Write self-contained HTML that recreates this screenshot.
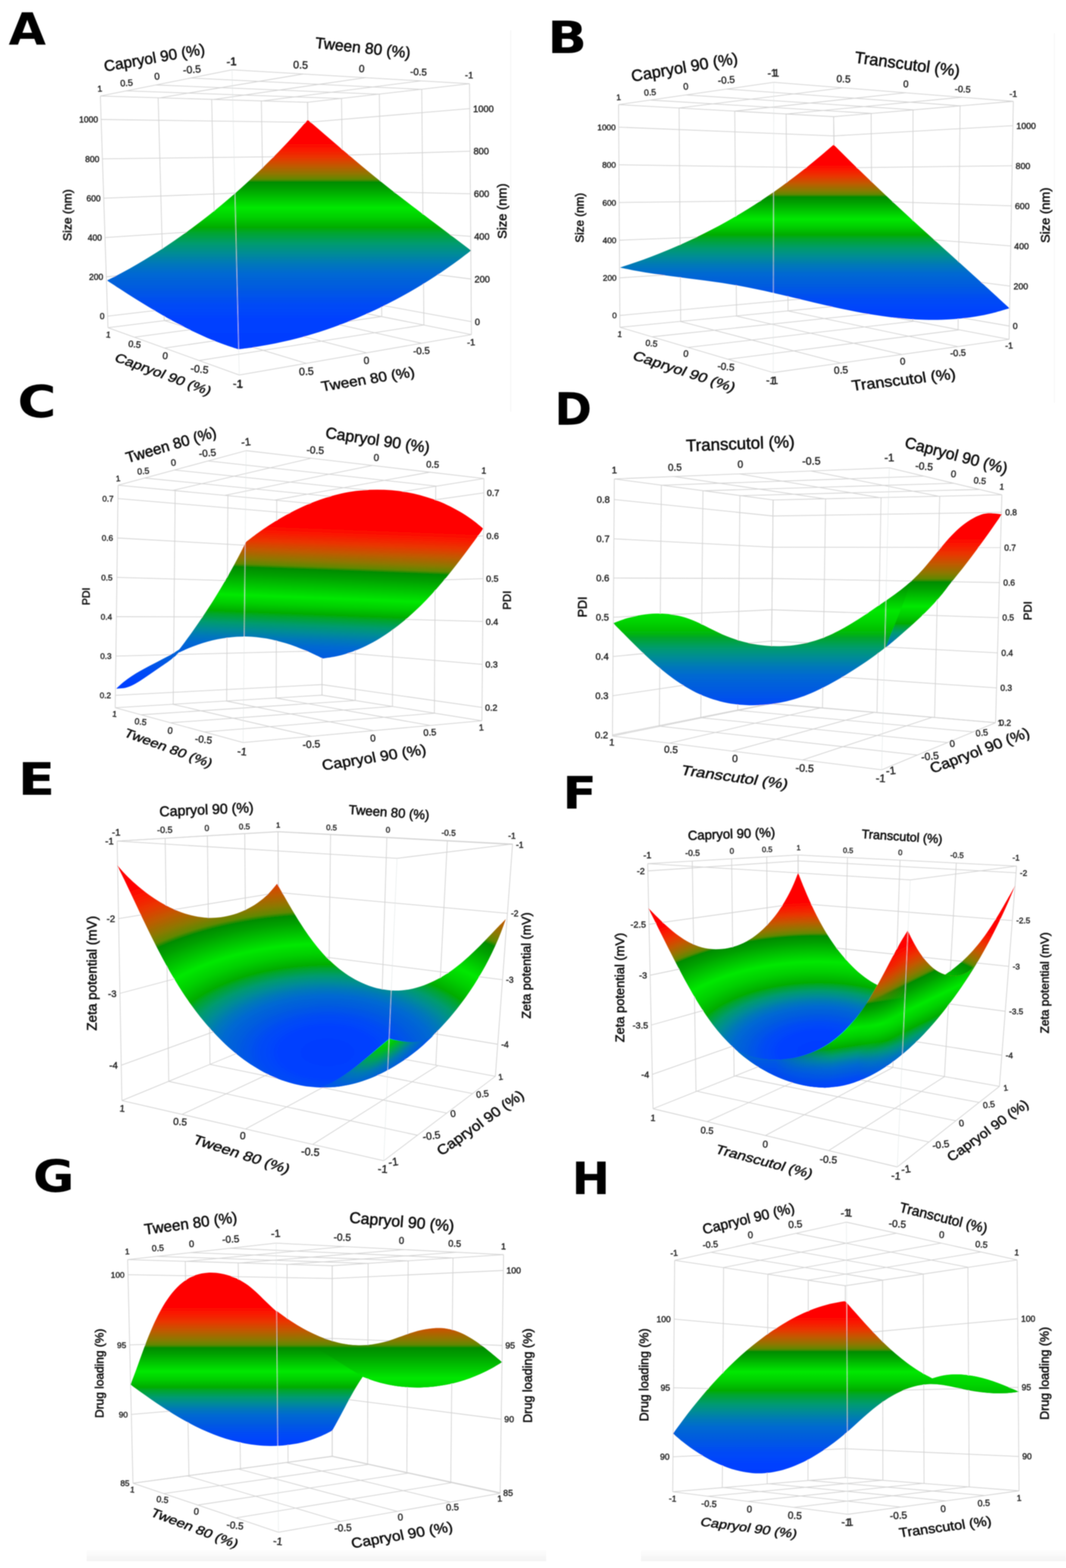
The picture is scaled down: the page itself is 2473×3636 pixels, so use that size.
<!DOCTYPE html>
<html lang="en"><head><meta charset="utf-8"><title>Response surface plots</title>
<style>
html,body{margin:0;padding:0;background:#fff;}
body{width:2473px;height:3636px;overflow:hidden;}
svg{display:block;font-family:"Liberation Sans","DejaVu Sans",sans-serif;}
.lt{font-family:"DejaVu Sans","Liberation Sans",sans-serif;font-weight:bold;}
text{text-anchor:middle;}
.lt,.s{text-anchor:start;}
.e{text-anchor:end;}
.k{fill:#262626;stroke:#262626;stroke-width:.8px;}
.a{fill:#0c0c0c;stroke:#0c0c0c;stroke-width:1px;}
</style></head><body>
<svg width="2473" height="3636" viewBox="0 0 2473 3636" font-size="20">
<defs>
<filter id="soft" filterUnits="userSpaceOnUse" x="0" y="0" width="2473" height="3636"><feGaussianBlur stdDeviation="1"/></filter>
<linearGradient id="gStrip" x1="0" y1="0" x2="0" y2="1"><stop offset="0" stop-color="#ffffff"/><stop offset="1" stop-color="#f3f3f3"/></linearGradient>
<linearGradient id="gA" gradientUnits="userSpaceOnUse" x1="0" y1="278.4" x2="0" y2="810"><stop offset="0.0000" stop-color="#ff0000"/><stop offset="0.0971" stop-color="#ff0000"/><stop offset="0.1286" stop-color="#fa1900"/><stop offset="0.1641" stop-color="#e83700"/><stop offset="0.2006" stop-color="#c05a00"/><stop offset="0.2367" stop-color="#8c7800"/><stop offset="0.2587" stop-color="#608800"/><stop offset="0.2661" stop-color="#288a00"/><stop offset="0.2711" stop-color="#008c00"/><stop offset="0.3000" stop-color="#00a000"/><stop offset="0.3462" stop-color="#00c800"/><stop offset="0.3830" stop-color="#00e800"/><stop offset="0.4246" stop-color="#00cf00"/><stop offset="0.4676" stop-color="#00ac00"/><stop offset="0.4885" stop-color="#00a62a"/><stop offset="0.5379" stop-color="#009b6e"/><stop offset="0.5815" stop-color="#008c96"/><stop offset="0.6251" stop-color="#0078b9"/><stop offset="0.6692" stop-color="#0069d2"/><stop offset="0.7361" stop-color="#005ae1"/><stop offset="0.8019" stop-color="#004bf5"/><stop offset="0.8683" stop-color="#0041ff"/><stop offset="1.0000" stop-color="#003cff"/></linearGradient>
<linearGradient id="gB" gradientUnits="userSpaceOnUse" x1="0" y1="335.5" x2="0" y2="780"><stop offset="0.0000" stop-color="#ff0000"/><stop offset="0.1001" stop-color="#ff0000"/><stop offset="0.1313" stop-color="#fa1900"/><stop offset="0.1663" stop-color="#e83700"/><stop offset="0.2024" stop-color="#c05a00"/><stop offset="0.2380" stop-color="#8c7800"/><stop offset="0.2598" stop-color="#608800"/><stop offset="0.2671" stop-color="#288a00"/><stop offset="0.2720" stop-color="#008c00"/><stop offset="0.3020" stop-color="#00a000"/><stop offset="0.3499" stop-color="#00c800"/><stop offset="0.3881" stop-color="#00e800"/><stop offset="0.4279" stop-color="#00cf00"/><stop offset="0.4691" stop-color="#00ac00"/><stop offset="0.4902" stop-color="#00a62a"/><stop offset="0.5405" stop-color="#009b6e"/><stop offset="0.5848" stop-color="#008c96"/><stop offset="0.6291" stop-color="#0078b9"/><stop offset="0.6739" stop-color="#0069d2"/><stop offset="0.7418" stop-color="#005ae1"/><stop offset="0.8088" stop-color="#004bf5"/><stop offset="0.8763" stop-color="#0041ff"/><stop offset="1.0000" stop-color="#003cff"/></linearGradient>
<linearGradient id="gC" gradientUnits="userSpaceOnUse" x1="756.1" y1="1164.1" x2="738.5" y2="1621.8"><stop offset="0.0000" stop-color="#ff0000"/><stop offset="0.1266" stop-color="#ff0000"/><stop offset="0.1662" stop-color="#fa1900"/><stop offset="0.2108" stop-color="#e83700"/><stop offset="0.2565" stop-color="#c05a00"/><stop offset="0.3018" stop-color="#8c7800"/><stop offset="0.3295" stop-color="#608800"/><stop offset="0.3388" stop-color="#288a00"/><stop offset="0.3450" stop-color="#008c00"/><stop offset="0.3817" stop-color="#00a000"/><stop offset="0.4403" stop-color="#00c800"/><stop offset="0.4869" stop-color="#00e800"/><stop offset="0.5277" stop-color="#00cf00"/><stop offset="0.5699" stop-color="#00ac00"/><stop offset="0.5869" stop-color="#00a62a"/><stop offset="0.6273" stop-color="#009b6e"/><stop offset="0.6629" stop-color="#008c96"/><stop offset="0.6986" stop-color="#0078b9"/><stop offset="0.7346" stop-color="#0069d2"/><stop offset="0.7893" stop-color="#005ae1"/><stop offset="0.8431" stop-color="#004bf5"/><stop offset="0.8974" stop-color="#0041ff"/><stop offset="1.0000" stop-color="#003cff"/></linearGradient>
<linearGradient id="gC2" gradientUnits="userSpaceOnUse" x1="0" y1="1164" x2="0" y2="1600"><stop offset="0.0000" stop-color="#ff0000"/><stop offset="0.1330" stop-color="#ff0000"/><stop offset="0.1746" stop-color="#fa1900"/><stop offset="0.2214" stop-color="#e83700"/><stop offset="0.2695" stop-color="#c05a00"/><stop offset="0.3170" stop-color="#8c7800"/><stop offset="0.3461" stop-color="#608800"/><stop offset="0.3559" stop-color="#288a00"/><stop offset="0.3624" stop-color="#008c00"/><stop offset="0.4009" stop-color="#00a000"/><stop offset="0.4625" stop-color="#00c800"/><stop offset="0.5115" stop-color="#00e800"/><stop offset="0.5560" stop-color="#00cf00"/><stop offset="0.6021" stop-color="#00ac00"/><stop offset="0.6210" stop-color="#00a62a"/><stop offset="0.6658" stop-color="#009b6e"/><stop offset="0.7054" stop-color="#008c96"/><stop offset="0.7449" stop-color="#0078b9"/><stop offset="0.7849" stop-color="#0069d2"/><stop offset="0.8456" stop-color="#005ae1"/><stop offset="0.9054" stop-color="#004bf5"/><stop offset="0.9656" stop-color="#0041ff"/><stop offset="1.0000" stop-color="#003cff"/></linearGradient>
<linearGradient id="gD" gradientUnits="userSpaceOnUse" x1="0" y1="1187" x2="0" y2="1725"><stop offset="0.0000" stop-color="#ff0000"/><stop offset="0.1089" stop-color="#ff0000"/><stop offset="0.1440" stop-color="#fa1900"/><stop offset="0.1835" stop-color="#e83700"/><stop offset="0.2240" stop-color="#c05a00"/><stop offset="0.2642" stop-color="#8c7800"/><stop offset="0.2887" stop-color="#608800"/><stop offset="0.2969" stop-color="#288a00"/><stop offset="0.3024" stop-color="#008c00"/><stop offset="0.3343" stop-color="#00a000"/><stop offset="0.3852" stop-color="#00c800"/><stop offset="0.4257" stop-color="#00e800"/><stop offset="0.4732" stop-color="#00d400"/><stop offset="0.5223" stop-color="#00b808"/><stop offset="0.5413" stop-color="#00a62a"/><stop offset="0.5865" stop-color="#009b6e"/><stop offset="0.6264" stop-color="#008c96"/><stop offset="0.6662" stop-color="#0078b9"/><stop offset="0.7065" stop-color="#0069d2"/><stop offset="0.7676" stop-color="#005ae1"/><stop offset="0.8278" stop-color="#004bf5"/><stop offset="0.8885" stop-color="#0041ff"/><stop offset="1.0000" stop-color="#003cff"/></linearGradient>
<linearGradient id="gD2" gradientUnits="userSpaceOnUse" x1="0" y1="1187" x2="0" y2="1620"><stop offset="0.0000" stop-color="#ff0000"/><stop offset="0.1353" stop-color="#ff0000"/><stop offset="0.1789" stop-color="#fa1900"/><stop offset="0.2280" stop-color="#e83700"/><stop offset="0.2784" stop-color="#c05a00"/><stop offset="0.3282" stop-color="#8c7800"/><stop offset="0.3587" stop-color="#608800"/><stop offset="0.3689" stop-color="#288a00"/><stop offset="0.3758" stop-color="#008c00"/><stop offset="0.4093" stop-color="#00a000"/><stop offset="0.4628" stop-color="#00c800"/><stop offset="0.5053" stop-color="#00e800"/><stop offset="0.5505" stop-color="#00cf00"/><stop offset="0.5972" stop-color="#00ac00"/><stop offset="0.6110" stop-color="#00a62a"/><stop offset="0.6436" stop-color="#009b6e"/><stop offset="0.6723" stop-color="#008c96"/><stop offset="0.7011" stop-color="#0078b9"/><stop offset="0.7301" stop-color="#0069d2"/><stop offset="0.7742" stop-color="#005ae1"/><stop offset="0.8177" stop-color="#004bf5"/><stop offset="0.8614" stop-color="#0041ff"/><stop offset="1.0000" stop-color="#003cff"/></linearGradient>
<radialGradient id="gE" gradientUnits="userSpaceOnUse" cx="0" cy="0" r="1" fx="0.0000" fy="0.0000" gradientTransform="translate(760 2440) scale(957.6 504)"><stop offset="0.0000" stop-color="#003cff"/><stop offset="0.1190" stop-color="#0041ff"/><stop offset="0.1661" stop-color="#004bf5"/><stop offset="0.2127" stop-color="#005ae1"/><stop offset="0.2601" stop-color="#0069d2"/><stop offset="0.2913" stop-color="#0078b9"/><stop offset="0.3222" stop-color="#008c96"/><stop offset="0.3530" stop-color="#009b6e"/><stop offset="0.3880" stop-color="#00a62a"/><stop offset="0.4028" stop-color="#00ac00"/><stop offset="0.4522" stop-color="#00cf00"/><stop offset="0.5000" stop-color="#00e800"/><stop offset="0.5434" stop-color="#00c800"/><stop offset="0.5980" stop-color="#00a000"/><stop offset="0.6321" stop-color="#008c00"/><stop offset="0.6395" stop-color="#288a00"/><stop offset="0.6506" stop-color="#608800"/><stop offset="0.6837" stop-color="#8c7800"/><stop offset="0.7378" stop-color="#c05a00"/><stop offset="0.7924" stop-color="#e83700"/><stop offset="0.8456" stop-color="#fa1900"/><stop offset="0.8929" stop-color="#ff0000"/><stop offset="1.0000" stop-color="#ff0000"/></radialGradient>
<radialGradient id="gE2" gradientUnits="userSpaceOnUse" cx="0" cy="0" r="1" gradientTransform="translate(903.5 2408.2) rotate(142) scale(170 62)"><stop offset="0" stop-color="#00dc00"/><stop offset="0.22" stop-color="#00c410"/><stop offset="0.45" stop-color="#00a060"/><stop offset="0.7" stop-color="#0078b4"/><stop offset="1" stop-color="#0058e6"/></radialGradient>
<radialGradient id="gF" gradientUnits="userSpaceOnUse" cx="0" cy="0" r="1" fx="0.0000" fy="0.0000" gradientTransform="translate(1900 2440) scale(792.3 417)"><stop offset="0.0000" stop-color="#003cff"/><stop offset="0.1199" stop-color="#0041ff"/><stop offset="0.1644" stop-color="#004bf5"/><stop offset="0.2086" stop-color="#005ae1"/><stop offset="0.2534" stop-color="#0069d2"/><stop offset="0.2829" stop-color="#0078b9"/><stop offset="0.3122" stop-color="#008c96"/><stop offset="0.3414" stop-color="#009b6e"/><stop offset="0.3745" stop-color="#00a62a"/><stop offset="0.3885" stop-color="#00ac00"/><stop offset="0.4470" stop-color="#00cf00"/><stop offset="0.5036" stop-color="#00e800"/><stop offset="0.5509" stop-color="#00c800"/><stop offset="0.6103" stop-color="#00a000"/><stop offset="0.6475" stop-color="#008c00"/><stop offset="0.6529" stop-color="#288a00"/><stop offset="0.6611" stop-color="#608800"/><stop offset="0.6854" stop-color="#8c7800"/><stop offset="0.7252" stop-color="#c05a00"/><stop offset="0.7654" stop-color="#e83700"/><stop offset="0.8045" stop-color="#fa1900"/><stop offset="0.8393" stop-color="#ff0000"/><stop offset="1.0000" stop-color="#ff0000"/></radialGradient>
<linearGradient id="gF2L" gradientUnits="userSpaceOnUse" x1="1964.2" y1="2214.2" x2="2013" y2="2540.6"><stop offset="0.0000" stop-color="#ff0000"/><stop offset="0.1212" stop-color="#ff0000"/><stop offset="0.1652" stop-color="#fa1900"/><stop offset="0.2146" stop-color="#e83700"/><stop offset="0.2654" stop-color="#c05a00"/><stop offset="0.3157" stop-color="#8c7800"/><stop offset="0.3465" stop-color="#608800"/><stop offset="0.3568" stop-color="#288a00"/><stop offset="0.3636" stop-color="#008c00"/><stop offset="0.4028" stop-color="#00a000"/><stop offset="0.4654" stop-color="#00c800"/><stop offset="0.5152" stop-color="#00e800"/><stop offset="0.5748" stop-color="#00cf00"/><stop offset="0.6364" stop-color="#00ac00"/><stop offset="0.6505" stop-color="#00a62a"/><stop offset="0.6842" stop-color="#009b6e"/><stop offset="0.7139" stop-color="#008c96"/><stop offset="0.7435" stop-color="#0078b9"/><stop offset="0.7736" stop-color="#0069d2"/><stop offset="0.8191" stop-color="#005ae1"/><stop offset="0.8639" stop-color="#004bf5"/><stop offset="0.9091" stop-color="#0041ff"/><stop offset="1.0000" stop-color="#003cff"/></linearGradient>
<linearGradient id="gF2R" gradientUnits="userSpaceOnUse" x1="2047.1" y1="2186.6" x2="2201.2" y2="2502.6"><stop offset="0.0000" stop-color="#ff0000"/><stop offset="0.0757" stop-color="#ff0000"/><stop offset="0.1195" stop-color="#fa1900"/><stop offset="0.1688" stop-color="#e83700"/><stop offset="0.2195" stop-color="#c05a00"/><stop offset="0.2696" stop-color="#8c7800"/><stop offset="0.3003" stop-color="#608800"/><stop offset="0.3106" stop-color="#288a00"/><stop offset="0.3174" stop-color="#008c00"/><stop offset="0.3576" stop-color="#00a000"/><stop offset="0.4217" stop-color="#00c800"/><stop offset="0.4727" stop-color="#00e800"/><stop offset="0.5300" stop-color="#00cf00"/><stop offset="0.5893" stop-color="#00ac00"/><stop offset="0.6044" stop-color="#00a62a"/><stop offset="0.6404" stop-color="#009b6e"/><stop offset="0.6721" stop-color="#008c96"/><stop offset="0.7038" stop-color="#0078b9"/><stop offset="0.7358" stop-color="#0069d2"/><stop offset="0.7844" stop-color="#005ae1"/><stop offset="0.8323" stop-color="#004bf5"/><stop offset="0.8805" stop-color="#0041ff"/><stop offset="1.0000" stop-color="#003cff"/></linearGradient>
<linearGradient id="gFm" gradientUnits="userSpaceOnUse" x1="1990" y1="0" x2="2110" y2="0"><stop offset="0.0000" stop-color="#000000"/><stop offset="1.0000" stop-color="#ffffff"/></linearGradient>
<linearGradient id="gFm2" gradientUnits="userSpaceOnUse" x1="1800" y1="0" x2="1930" y2="0"><stop offset="0.0000" stop-color="#ffffff"/><stop offset="1.0000" stop-color="#000000"/></linearGradient>
<mask id="mF2" maskUnits="userSpaceOnUse" x="1600" y="2100" width="800" height="500"><rect x="1600" y="2100" width="800" height="500" fill="url(#gFm2)"/></mask>
<linearGradient id="gF2B" gradientUnits="userSpaceOnUse" x1="0" y1="2435" x2="0" y2="2520"><stop offset="0.0000" stop-color="#0069d2"/><stop offset="0.5000" stop-color="#0050eb"/><stop offset="1.0000" stop-color="#003cfc"/></linearGradient>
<mask id="mF" maskUnits="userSpaceOnUse" x="1600" y="2100" width="800" height="500"><rect x="1600" y="2100" width="800" height="500" fill="url(#gFm)"/></mask>
<linearGradient id="gG" gradientUnits="userSpaceOnUse" x1="0" y1="2949.6" x2="0" y2="3360"><stop offset="0.0000" stop-color="#ff0000"/><stop offset="0.1910" stop-color="#ff0000"/><stop offset="0.2341" stop-color="#fa1900"/><stop offset="0.2826" stop-color="#e83700"/><stop offset="0.3324" stop-color="#c05a00"/><stop offset="0.3816" stop-color="#8c7800"/><stop offset="0.4118" stop-color="#608800"/><stop offset="0.4219" stop-color="#288a00"/><stop offset="0.4286" stop-color="#008c00"/><stop offset="0.4630" stop-color="#00a000"/><stop offset="0.5178" stop-color="#00c800"/><stop offset="0.5614" stop-color="#00e800"/><stop offset="0.6057" stop-color="#00cf00"/><stop offset="0.6516" stop-color="#00ac00"/><stop offset="0.6678" stop-color="#00a62a"/><stop offset="0.7062" stop-color="#009b6e"/><stop offset="0.7402" stop-color="#008c96"/><stop offset="0.7741" stop-color="#0078b9"/><stop offset="0.8084" stop-color="#0069d2"/><stop offset="0.8605" stop-color="#005ae1"/><stop offset="0.9118" stop-color="#004bf5"/><stop offset="0.9635" stop-color="#0041ff"/><stop offset="1.0000" stop-color="#003cff"/></linearGradient>
<linearGradient id="gG2" gradientUnits="userSpaceOnUse" x1="0" y1="2949.6" x2="0" y2="3400"><stop offset="0.0000" stop-color="#ff0000"/><stop offset="0.1741" stop-color="#ff0000"/><stop offset="0.2133" stop-color="#fa1900"/><stop offset="0.2575" stop-color="#e83700"/><stop offset="0.3028" stop-color="#c05a00"/><stop offset="0.3477" stop-color="#8c7800"/><stop offset="0.3752" stop-color="#608800"/><stop offset="0.3844" stop-color="#288a00"/><stop offset="0.3905" stop-color="#008c00"/><stop offset="0.4310" stop-color="#00a000"/><stop offset="0.4957" stop-color="#00c800"/><stop offset="0.5471" stop-color="#00e800"/><stop offset="0.6060" stop-color="#00cf00"/><stop offset="0.6670" stop-color="#00ac00"/><stop offset="0.6820" stop-color="#00a62a"/><stop offset="0.7176" stop-color="#009b6e"/><stop offset="0.7490" stop-color="#008c96"/><stop offset="0.7804" stop-color="#0078b9"/><stop offset="0.8122" stop-color="#0069d2"/><stop offset="0.8603" stop-color="#005ae1"/><stop offset="0.9078" stop-color="#004bf5"/><stop offset="0.9556" stop-color="#0041ff"/><stop offset="1.0000" stop-color="#003cff"/></linearGradient>
<linearGradient id="gH" gradientUnits="userSpaceOnUse" x1="0" y1="3016.9" x2="0" y2="3420"><stop offset="0.0000" stop-color="#ff0000"/><stop offset="0.0871" stop-color="#ff0000"/><stop offset="0.1240" stop-color="#fa1900"/><stop offset="0.1656" stop-color="#e83700"/><stop offset="0.2084" stop-color="#c05a00"/><stop offset="0.2507" stop-color="#8c7800"/><stop offset="0.2766" stop-color="#608800"/><stop offset="0.2852" stop-color="#288a00"/><stop offset="0.2910" stop-color="#008c00"/><stop offset="0.3208" stop-color="#00a000"/><stop offset="0.3685" stop-color="#00c800"/><stop offset="0.4064" stop-color="#00e800"/><stop offset="0.4598" stop-color="#00cf00"/><stop offset="0.5150" stop-color="#00ac00"/><stop offset="0.5370" stop-color="#00a62a"/><stop offset="0.5892" stop-color="#009b6e"/><stop offset="0.6352" stop-color="#008c96"/><stop offset="0.6812" stop-color="#0078b9"/><stop offset="0.7278" stop-color="#0069d2"/><stop offset="0.7984" stop-color="#005ae1"/><stop offset="0.8679" stop-color="#004bf5"/><stop offset="0.9380" stop-color="#0041ff"/><stop offset="1.0000" stop-color="#003cff"/></linearGradient>
<linearGradient id="gH2" gradientUnits="userSpaceOnUse" x1="0" y1="3187" x2="0" y2="3231"><stop offset="0.0000" stop-color="#00e200"/><stop offset="0.5000" stop-color="#00d600"/><stop offset="1.0000" stop-color="#00c000"/></linearGradient>
<linearGradient id="gHm" gradientUnits="userSpaceOnUse" x1="2150" y1="0" x2="2215" y2="0"><stop offset="0.0000" stop-color="#000000"/><stop offset="1.0000" stop-color="#ffffff"/></linearGradient>
<mask id="mH" maskUnits="userSpaceOnUse" x="2100" y="3150" width="300" height="120"><rect x="2100" y="3150" width="300" height="120" fill="url(#gHm)"/></mask>
<clipPath id="cH"><path d="M1561.5,3324.2C1565.1,3319.2 1575.9,3304.3 1583.3,3294.4C1590.7,3284.6 1598.2,3274.8 1605.8,3265.1C1613.5,3255.5 1621.3,3245.9 1629.2,3236.5C1637.2,3227.1 1645.3,3217.7 1653.6,3208.6C1661.8,3199.5 1670.3,3190.4 1678.9,3181.6C1687.5,3172.8 1696.3,3164.2 1705.2,3155.8C1714.2,3147.3 1723.4,3139.1 1732.8,3131.1C1742.1,3123.2 1751.7,3115.4 1761.5,3107.9C1771.3,3100.4 1781.3,3093.1 1791.5,3086.2C1801.8,3079.3 1812.2,3072.6 1822.9,3066.4C1833.6,3060.2 1844.4,3054.3 1855.5,3049.1C1866.6,3043.8 1877.9,3038.9 1889.4,3034.6C1900.9,3030.4 1912.7,3026.7 1924.6,3023.7C1936.5,3020.8 1954.8,3018 1960.9,3016.9C1964.6,3021.1 1975.7,3033.9 1983.2,3042.3C1990.7,3050.8 1998.2,3059.4 2005.8,3067.7C2013.5,3076.1 2021.2,3084.5 2029.1,3092.7C2036.9,3100.9 2044.9,3108.9 2053.1,3116.8C2061.3,3124.6 2069.6,3132.2 2078.2,3139.6C2086.8,3146.9 2095.6,3154 2104.7,3160.7C2113.8,3167.4 2123.1,3173.8 2132.7,3179.7C2142.4,3185.6 2157.6,3193.4 2162.6,3196.2C2166.9,3195.1 2179.8,3191.1 2188.4,3189.5C2197,3188 2205.6,3187.3 2214.2,3187.1C2222.8,3186.8 2231.4,3187.3 2240,3188.2C2248.5,3189 2257.1,3190.5 2265.6,3192.3C2274.1,3194.1 2282.6,3196.4 2291,3198.8C2299.3,3201.3 2307.7,3204.2 2315.9,3207.2C2324.1,3210.2 2332.3,3213.5 2340.3,3216.9C2348.4,3220.2 2360.1,3225.5 2364.1,3227.2C2359.1,3227.8 2344.2,3229.9 2334.3,3230.5C2324.4,3231.1 2314.6,3231.1 2304.8,3230.7C2295.1,3230.4 2285.3,3229.5 2275.6,3228.3C2265.8,3227.1 2256.1,3225.5 2246.3,3223.7C2236.5,3221.8 2226.7,3219.4 2216.8,3217.4C2207,3215.4 2197.1,3212.9 2187.2,3211.6C2177.4,3210.3 2167.6,3209.3 2157.8,3209.5C2148.1,3209.8 2138.4,3211.1 2128.9,3213.1C2119.4,3215.1 2109.9,3218.2 2100.7,3221.8C2091.5,3225.4 2082.5,3229.8 2073.7,3234.5C2065,3239.3 2056.4,3244.7 2048.3,3250.3C2040.1,3255.9 2032.3,3262 2024.7,3268.1C2017.1,3274.2 2009.9,3280.7 2002.6,3287.1C1995.3,3293.6 1988.3,3300.2 1980.9,3306.7C1973.6,3313.2 1966.3,3319.8 1958.6,3326.2C1951,3332.6 1943.1,3339 1935.1,3345.1C1927,3351.2 1918.7,3357.2 1910.3,3362.9C1901.9,3368.5 1893.3,3373.9 1884.6,3378.9C1875.9,3383.9 1867,3388.6 1858,3392.8C1849,3397 1839.8,3400.8 1830.6,3403.9C1821.4,3407.1 1812,3409.8 1802.6,3411.8C1793.2,3413.9 1783.7,3415.3 1774.1,3416C1764.6,3416.7 1754.9,3416.7 1745.3,3415.9C1735.7,3415.1 1726,3413.5 1716.4,3411.3C1706.8,3409.2 1697.2,3406.3 1687.7,3402.9C1678.3,3399.6 1668.8,3395.6 1659.7,3391.2C1650.5,3386.9 1641.4,3382 1632.6,3376.9C1623.8,3371.8 1615.2,3366.2 1607,3360.5C1598.8,3354.9 1590.7,3348.8 1583.2,3342.8C1575.6,3336.7 1565.1,3327.3 1561.5,3324.2Z" fill="#000"/></clipPath>
</defs>
<rect x="0" y="0" width="2473" height="3636" fill="#ffffff"/>
<g filter="url(#soft)">
<rect x="201" y="3592" width="1066" height="28" fill="url(#gStrip)"/>
<rect x="1487" y="3592" width="986" height="28" fill="url(#gStrip)"/>
<line x1="1184.8" y1="70" x2="1184.8" y2="955" stroke="#f1f1f1" stroke-width="1.6"/>
<line x1="2446" y1="77" x2="2446" y2="934" stroke="#f5f5f5" stroke-width="1.6"/>
<g id="panelA">
<g stroke="#d3d3d3" stroke-width="1.8" fill="none">
<line x1="232.8" y1="222.6" x2="713.5" y2="237.2"/>
<line x1="292.6" y1="210.7" x2="790.8" y2="228.4"/>
<line x1="361.7" y1="197" x2="877.7" y2="218.4"/>
<line x1="442.5" y1="180.9" x2="976.4" y2="207.1"/>
<line x1="538.3" y1="161.9" x2="1089.2" y2="194.2"/>
<line x1="232.8" y1="222.6" x2="538.3" y2="161.9"/>
<line x1="370.9" y1="226.8" x2="703.6" y2="171.6"/>
<line x1="495.9" y1="230.6" x2="848.2" y2="180.1"/>
<line x1="609.6" y1="234" x2="975.8" y2="187.6"/>
<line x1="713.5" y1="237.2" x2="1089.2" y2="194.2"/>
<line x1="250.5" y1="759.8" x2="719.5" y2="701"/>
<line x1="311.9" y1="781.9" x2="797.6" y2="716.6"/>
<line x1="381.8" y1="807.1" x2="884.8" y2="734"/>
<line x1="462" y1="836" x2="982.8" y2="753.6"/>
<line x1="555.1" y1="869.6" x2="1093.7" y2="775.8"/>
<line x1="250.5" y1="759.8" x2="555.1" y2="869.6"/>
<line x1="381.6" y1="743.4" x2="710.4" y2="842.5"/>
<line x1="502.7" y1="728.2" x2="850.6" y2="818.1"/>
<line x1="615.1" y1="714.1" x2="977.8" y2="796"/>
<line x1="719.5" y1="701" x2="1093.7" y2="775.8"/>
<line x1="366.9" y1="226.7" x2="381.1" y2="743.4"/>
<line x1="491.1" y1="230.4" x2="502.1" y2="728.3"/>
<line x1="606.3" y1="233.9" x2="614.6" y2="714.1"/>
<line x1="232.8" y1="222.6" x2="250.5" y2="759.8"/>
<line x1="713.5" y1="237.2" x2="719.5" y2="701"/>
<line x1="234.6" y1="277" x2="714.1" y2="283.7"/>
<line x1="237.6" y1="368.4" x2="715.1" y2="362.5"/>
<line x1="240.6" y1="459.6" x2="716.1" y2="441.3"/>
<line x1="243.6" y1="550.8" x2="717.2" y2="520"/>
<line x1="246.6" y1="642" x2="718.2" y2="598.8"/>
<line x1="249.6" y1="733.2" x2="719.2" y2="677.6"/>
<line x1="792.3" y1="228.2" x2="798.1" y2="716.7"/>
<line x1="880.1" y1="218.1" x2="885.6" y2="734.2"/>
<line x1="978.4" y1="206.9" x2="983.4" y2="753.8"/>
<line x1="713.5" y1="237.2" x2="719.5" y2="701"/>
<line x1="1089.2" y1="194.2" x2="1093.7" y2="775.8"/>
<line x1="714.1" y1="283.7" x2="1089.6" y2="251.8"/>
<line x1="715.1" y1="362.5" x2="1090.4" y2="350.6"/>
<line x1="716.1" y1="441.3" x2="1091.2" y2="449.4"/>
<line x1="717.2" y1="520" x2="1091.9" y2="548.2"/>
<line x1="718.2" y1="598.8" x2="1092.7" y2="647"/>
<line x1="719.2" y1="677.6" x2="1093.5" y2="745.8"/>
</g>
<path d="M248.3,650.5C254.2,647.4 272.1,638.4 283.8,632C295.5,625.7 307.2,619.1 318.7,612.4C330.2,605.7 341.7,598.9 353,591.8C364.3,584.8 375.5,577.6 386.6,570.2C397.7,562.8 408.7,555.3 419.6,547.6C430.5,539.9 441.3,532.1 452,524.1C462.6,516.1 473.2,508 483.7,499.7C494.2,491.4 504.5,483 514.8,474.5C525,465.9 535.2,457.3 545.2,448.5C555.2,439.7 565.2,430.7 575,421.7C584.8,412.7 594.5,403.5 604.1,394.2C613.7,384.9 623.2,375.5 632.6,366.1C642,356.6 651.2,347 660.4,337.3C669.5,327.6 678.6,317.8 687.5,307.9C696.5,298 709.6,283 714,278C742.2,301.8 820.3,370.5 883.4,421C946.5,471.5 1057.9,554.3 1092.8,581C1088.2,584.5 1074.3,595.2 1065,602.2C1055.6,609.1 1046.1,615.9 1036.5,622.5C1026.9,629.2 1017.3,635.7 1007.5,642C997.7,648.4 987.8,654.6 977.9,660.7C967.9,666.8 957.9,672.7 947.8,678.5C937.6,684.2 927.4,689.8 917.1,695.3C906.8,700.7 896.4,706 886,711.2C875.5,716.3 865,721.2 854.3,726C843.7,730.8 833,735.4 822.3,739.9C811.5,744.3 800.7,748.6 789.8,752.7C778.9,756.7 767.9,760.6 756.9,764.4C745.9,768.1 734.8,771.6 723.6,774.9C712.5,778.3 701.3,781.4 690,784.4C678.7,787.3 667.4,790 656,792.6C644.7,795.1 633.3,797.5 621.8,799.6C610.3,801.7 598.8,803.7 587.3,805.4C575.7,807.1 558.3,809.1 552.5,809.9C546.5,807.8 528.2,802 516.2,797.6C504.2,793.2 492.4,788.4 480.7,783.4C469,778.3 457.4,773 445.9,767.5C434.4,761.9 423.1,756.1 411.8,750.1C400.5,744.2 389.3,737.9 378.2,731.6C367.1,725.3 356.1,718.7 345.2,712.1C334.2,705.5 323.4,698.8 312.6,692C301.7,685.2 291,678.3 280.3,671.3C269.6,664.4 253.6,654 248.3,650.5Z" fill="url(#gA)"/>
<line x1="538.3" y1="161.9" x2="555.1" y2="869.6" stroke="#e2e6e6" stroke-width="1.3" stroke-opacity="0.85"/>
<text class="lt" transform="translate(20 103.7) scale(1.074 1)" font-size="104.1" fill="#000">A</text>
<text class="k" x="231.5" y="212.4" font-size="19.8" transform="rotate(-4 231.5 205.3)">1</text>
<text class="k" x="293.5" y="199.6" font-size="21.1" transform="rotate(-4 293.5 192)">0.5</text>
<text class="k" x="364.3" y="184.6" font-size="22.5" transform="rotate(-4 364.3 176.5)">0</text>
<text class="k" x="445.3" y="169.3" font-size="24.2" transform="rotate(-4 445.3 160.6)">-0.5</text>
<text class="k" x="537" y="151.4" font-size="26.1" transform="rotate(-4 537 142)">-1</text>
<text class="k" x="541.5" y="151.4" font-size="26.1" transform="rotate(2 541.5 142)">1</text>
<text class="k" x="697.4" y="158.9" font-size="24.8" transform="rotate(2 697.4 150)">0.5</text>
<text class="k" x="839" y="167.3" font-size="23.6" transform="rotate(2 839 158.8)">0</text>
<text class="k" x="971" y="174.4" font-size="22.5" transform="rotate(2 971 166.3)">-0.5</text>
<text class="k" x="1088.4" y="181.6" font-size="21.5" transform="rotate(2 1088.4 173.9)">-1</text>
<text class="k" x="251.4" y="782.9" font-size="19.8" transform="rotate(6 251.4 775.8)">1</text>
<text class="k" x="312.5" y="805.6" font-size="21.1" transform="rotate(6 312.5 798)">0.5</text>
<text class="k" x="383.4" y="832.6" font-size="22.5" transform="rotate(6 383.4 824.5)">0</text>
<text class="k" x="463" y="864.2" font-size="24.2" transform="rotate(6 463 855.5)">-0.5</text>
<text class="k" x="552" y="898.9" font-size="26.1" transform="rotate(6 552 889.5)">-1</text>
<text class="k" x="556.5" y="898.9" font-size="26.1" transform="rotate(-3 556.5 889.5)">1</text>
<text class="k" x="710.7" y="869.7" font-size="24.8" transform="rotate(-3 710.7 860.8)">0.5</text>
<text class="k" x="850" y="844" font-size="23.6" transform="rotate(-3 850 835.5)">0</text>
<text class="k" x="977.7" y="821.1" font-size="22.5" transform="rotate(-3 977.7 813)">-0.5</text>
<text class="k" x="1092.8" y="801.2" font-size="21.5" transform="rotate(-3 1092.8 793.5)">-1</text>
<text class="k e" x="227.6" y="284.1" font-size="19.8">1000</text>
<text class="k e" x="230.6" y="375.5" font-size="19.8">800</text>
<text class="k e" x="233.6" y="466.7" font-size="19.8">600</text>
<text class="k e" x="236.6" y="557.9" font-size="19.8">400</text>
<text class="k e" x="239.6" y="649.1" font-size="19.8">200</text>
<text class="k e" x="242.6" y="740.3" font-size="19.8">0</text>
<text class="k s" x="1097.6" y="259.5" font-size="21.5">1000</text>
<text class="k s" x="1098.4" y="358.3" font-size="21.5">800</text>
<text class="k s" x="1099.2" y="457.1" font-size="21.5">600</text>
<text class="k s" x="1099.9" y="555.9" font-size="21.5">400</text>
<text class="k s" x="1100.7" y="654.7" font-size="21.5">200</text>
<text class="k s" x="1101.5" y="753.5" font-size="21.5">0</text>
<text class="a" x="358" y="145.8" font-size="35.5" transform="rotate(-9.9 358 133)">Capryol 90 (%)</text>
<text class="a" x="842" y="123" font-size="36" transform="rotate(6.2 842 110)">Tween 80 (%)</text>
<text class="a" y="12.4" font-size="34.5" transform="translate(379 867.4) rotate(20.2) skewX(-11) scale(1.02 0.86)">Capryol 90 (%)</text>
<text class="a" y="12.8" font-size="35.5" transform="translate(853.3 878.5) rotate(-9.2) skewX(3) scale(1 0.92)">Tween 80 (%)</text>
<text class="a" x="155.5" y="508.8" font-size="28" transform="rotate(-90 155.5 498.7)">Size (nm)</text>
<text class="a" x="1164.5" y="500.3" font-size="30" transform="rotate(-90 1164.5 489.5)">Size (nm)</text>
</g>
<g id="panelB">
<g stroke="#d3d3d3" stroke-width="1.8" fill="none">
<line x1="1435" y1="242.6" x2="1934" y2="270.5"/>
<line x1="1508.5" y1="232" x2="2022" y2="263"/>
<line x1="1591.5" y1="220.1" x2="2119.6" y2="254.7"/>
<line x1="1686.1" y1="206.5" x2="2228.5" y2="245.4"/>
<line x1="1795" y1="190.8" x2="2350.8" y2="235"/>
<line x1="1435" y1="242.6" x2="1795" y2="190.8"/>
<line x1="1575.1" y1="250.4" x2="1956" y2="203.6"/>
<line x1="1704.2" y1="257.7" x2="2100.8" y2="215.1"/>
<line x1="1823.5" y1="264.3" x2="2231.8" y2="225.5"/>
<line x1="1934" y1="270.5" x2="2350.8" y2="235"/>
<line x1="1438.1" y1="759" x2="1939" y2="710"/>
<line x1="1512.7" y1="781" x2="2025.7" y2="726.6"/>
<line x1="1595.8" y1="805.6" x2="2120.7" y2="744.8"/>
<line x1="1688.8" y1="833" x2="2225.3" y2="764.8"/>
<line x1="1793.7" y1="864" x2="2341" y2="786.9"/>
<line x1="1438.1" y1="759" x2="1793.7" y2="864"/>
<line x1="1577.9" y1="745.3" x2="1950.3" y2="841.9"/>
<line x1="1707.3" y1="732.7" x2="2092.5" y2="821.9"/>
<line x1="1827.3" y1="720.9" x2="2222.2" y2="803.6"/>
<line x1="1939" y1="710" x2="2341" y2="786.9"/>
<line x1="1575.4" y1="250.4" x2="1579.1" y2="745.2"/>
<line x1="1704.5" y1="257.7" x2="1708.7" y2="732.5"/>
<line x1="1823.7" y1="264.3" x2="1828.3" y2="720.8"/>
<line x1="1435" y1="242.6" x2="1438.1" y2="759"/>
<line x1="1934" y1="270.5" x2="1939" y2="710"/>
<line x1="1435.3" y1="294.8" x2="1934.5" y2="315.1"/>
<line x1="1435.8" y1="382.2" x2="1935.4" y2="389.4"/>
<line x1="1436.4" y1="469.6" x2="1936.2" y2="463.6"/>
<line x1="1436.9" y1="557" x2="1937" y2="537.8"/>
<line x1="1437.4" y1="644.3" x2="1937.9" y2="612"/>
<line x1="1437.9" y1="731.5" x2="1938.7" y2="686"/>
<line x1="2021" y1="263.1" x2="2023.5" y2="726.2"/>
<line x1="2118.2" y1="254.8" x2="2117.5" y2="744.1"/>
<line x1="2227.3" y1="245.5" x2="2222.6" y2="764.2"/>
<line x1="1934" y1="270.5" x2="1939" y2="710"/>
<line x1="2350.8" y1="235" x2="2341" y2="786.9"/>
<line x1="1934.5" y1="315.1" x2="2349.8" y2="291.3"/>
<line x1="1935.4" y1="389.4" x2="2348.1" y2="384.3"/>
<line x1="1936.2" y1="463.6" x2="2346.5" y2="477.3"/>
<line x1="1937" y1="537.8" x2="2344.8" y2="570.3"/>
<line x1="1937.9" y1="612" x2="2343.2" y2="663.3"/>
<line x1="1938.7" y1="686" x2="2341.5" y2="756"/>
</g>
<path d="M1438.1,620.4C1444.2,618.4 1462.5,612.5 1474.6,608.3C1486.7,604.1 1498.7,599.7 1510.7,595.2C1522.7,590.7 1534.6,586 1546.4,581.1C1558.2,576.2 1570,571.2 1581.7,566C1593.3,560.7 1604.9,555.4 1616.5,549.8C1628,544.3 1639.4,538.5 1650.8,532.6C1662.1,526.7 1673.4,520.7 1684.5,514.4C1695.7,508.2 1706.8,501.8 1717.7,495.2C1728.7,488.6 1739.6,481.9 1750.4,475C1761.1,468.1 1771.8,461 1782.4,453.8C1793,446.6 1803.5,439.2 1813.9,431.7C1824.2,424.2 1834.5,416.5 1844.7,408.7C1854.9,401 1865,393 1875.1,385C1885.1,377 1895,368.8 1904.8,360.6C1914.6,352.3 1929.1,339.7 1934,335.5C1943.4,344.9 1971.5,373.1 1990.5,391.6C2009.5,410.1 2028.7,428.4 2048,446.6C2067.3,464.8 2086.8,482.8 2106.3,500.7C2125.8,518.7 2145.5,536.5 2165.1,554.3C2184.7,572.1 2204.5,589.8 2224.2,607.6C2243.8,625.4 2263.6,643.2 2283.2,661C2302.8,678.8 2332.1,705.8 2341.9,714.7C2335.4,716.6 2315.9,722.7 2302.9,725.9C2289.8,729.1 2276.7,731.7 2263.6,733.9C2250.5,736.1 2237.3,737.7 2224.1,739C2211,740.2 2197.8,741 2184.5,741.4C2171.3,741.8 2158.1,741.8 2144.9,741.4C2131.7,741.1 2118.4,740.4 2105.2,739.4C2092,738.4 2078.8,737 2065.6,735.4C2052.4,733.8 2039.2,731.9 2026.1,729.8C2012.9,727.8 1999.8,725.4 1986.8,722.9C1973.7,720.4 1960.7,717.7 1947.6,714.9C1934.6,712.1 1921.7,709.2 1908.7,706.2C1895.7,703.2 1882.8,700.1 1869.8,697C1856.9,693.9 1843.9,690.8 1831,687.7C1818,684.7 1805.1,681.6 1792.1,678.7C1779.2,675.7 1766.2,672.8 1753.2,670.2C1740.2,667.5 1727.2,664.9 1714.1,662.5C1701,660.2 1687.9,658 1674.8,656C1661.7,654 1648.5,652.3 1635.4,650.5C1622.2,648.7 1609,647.1 1595.8,645.4C1582.6,643.7 1569.4,642.1 1556.2,640.3C1543,638.6 1529.9,636.8 1516.7,634.8C1503.5,632.8 1490.4,630.7 1477.3,628.3C1464.2,625.9 1444.6,621.7 1438.1,620.4Z" fill="url(#gB)"/>
<line x1="1795" y1="190.8" x2="1793.7" y2="864" stroke="#e2e6e6" stroke-width="1.3" stroke-opacity="0.85"/>
<text class="lt" transform="translate(1270.2 122.7) scale(1.149 1)" font-size="104.1" fill="#000">B</text>
<text class="k" x="1435" y="232.2" font-size="19.1" transform="rotate(-4 1435 225.3)">1</text>
<text class="k" x="1508" y="221.1" font-size="20.2" transform="rotate(-4 1508 213.8)">0.5</text>
<text class="k" x="1591" y="207.8" font-size="21.6" transform="rotate(-4 1591 200)">0</text>
<text class="k" x="1685" y="193.3" font-size="23.1" transform="rotate(-4 1685 185)">-0.5</text>
<text class="k" x="1791.5" y="177.5" font-size="24.8" transform="rotate(-4 1791.5 168.6)">-1</text>
<text class="k" x="1801" y="177.5" font-size="24.8" transform="rotate(2.5 1801 168.6)">1</text>
<text class="k" x="1957" y="190.9" font-size="23.5" transform="rotate(2.5 1957 182.4)">0.5</text>
<text class="k" x="2101.5" y="202.4" font-size="22.4" transform="rotate(2.5 2101.5 194.3)">0</text>
<text class="k" x="2233.5" y="214" font-size="21.3" transform="rotate(2.5 2233.5 206.3)">-0.5</text>
<text class="k" x="2350.8" y="224.6" font-size="20.4" transform="rotate(2.5 2350.8 217.3)">-1</text>
<text class="k" x="1438.1" y="781.4" font-size="19.1" transform="rotate(6 1438.1 774.5)">1</text>
<text class="k" x="1511.6" y="803.1" font-size="20.2" transform="rotate(6 1511.6 795.8)">0.5</text>
<text class="k" x="1591.3" y="827.5" font-size="21.6" transform="rotate(6 1591.3 819.7)">0</text>
<text class="k" x="1684.3" y="858.1" font-size="23.1" transform="rotate(6 1684.3 849.8)">-0.5</text>
<text class="k" x="1788.5" y="890.6" font-size="24.8" transform="rotate(6 1788.5 881.7)">-1</text>
<text class="k" x="1798" y="890.6" font-size="24.8" transform="rotate(-3 1798 881.7)">1</text>
<text class="k" x="1951" y="866.2" font-size="23.5" transform="rotate(-3 1951 857.7)">0.5</text>
<text class="k" x="2094" y="845.5" font-size="22.4" transform="rotate(-3 2094 837.4)">0</text>
<text class="k" x="2222.4" y="825.6" font-size="21.3" transform="rotate(-3 2222.4 817.9)">-0.5</text>
<text class="k" x="2341" y="808.3" font-size="20.4" transform="rotate(-3 2341 801)">-1</text>
<text class="k e" x="1428.3" y="301.7" font-size="19.1">1000</text>
<text class="k e" x="1428.8" y="389.1" font-size="19.1">800</text>
<text class="k e" x="1429.4" y="476.5" font-size="19.1">600</text>
<text class="k e" x="1429.9" y="563.9" font-size="19.1">400</text>
<text class="k e" x="1430.4" y="651.2" font-size="19.1">200</text>
<text class="k e" x="1430.9" y="738.4" font-size="19.1">0</text>
<text class="k s" x="2357.8" y="298.6" font-size="20.4">1000</text>
<text class="k s" x="2356.1" y="391.6" font-size="20.4">800</text>
<text class="k s" x="2354.5" y="484.6" font-size="20.4">600</text>
<text class="k s" x="2352.8" y="577.6" font-size="20.4">400</text>
<text class="k s" x="2351.2" y="670.6" font-size="20.4">200</text>
<text class="k s" x="2349.5" y="763.3" font-size="20.4">0</text>
<text class="a" x="1587.8" y="168.5" font-size="37.5" transform="rotate(-9.7 1587.8 155)">Capryol 90 (%)</text>
<text class="a" x="2105" y="161.5" font-size="38" transform="rotate(7.6 2105 147.8)">Transcutol (%)</text>
<text class="a" y="13.1" font-size="36.3" transform="translate(1587.8 860.8) rotate(18.1) skewX(-11) scale(1.02 0.86)">Capryol 90 (%)</text>
<text class="a" y="13.5" font-size="37.5" transform="translate(2096.2 879.9) rotate(-6.7) skewX(3) scale(1 0.92)">Transcutol (%)</text>
<text class="a" x="1344.3" y="514.7" font-size="27" transform="rotate(-90 1344.3 505)">Size (nm)</text>
<text class="a" x="2423.8" y="509.8" font-size="30" transform="rotate(-90 2423.8 499)">Size (nm)</text>
</g>
<g id="panelC">
<g stroke="#d3d3d3" stroke-width="1.8" fill="none">
<line x1="274" y1="1125.2" x2="747" y2="1170"/>
<line x1="335.8" y1="1108.5" x2="826.7" y2="1157.2"/>
<line x1="404.9" y1="1089.9" x2="914.8" y2="1143.1"/>
<line x1="482.7" y1="1068.8" x2="1012.9" y2="1127.3"/>
<line x1="571" y1="1045" x2="1122.7" y2="1109.7"/>
<line x1="274" y1="1125.2" x2="571" y2="1045"/>
<line x1="401.1" y1="1137.2" x2="721.9" y2="1062.7"/>
<line x1="522" y1="1148.7" x2="863.7" y2="1079.3"/>
<line x1="637.2" y1="1159.6" x2="997" y2="1095"/>
<line x1="747" y1="1170" x2="1122.7" y2="1109.7"/>
<line x1="267.3" y1="1641.2" x2="747" y2="1612"/>
<line x1="327.4" y1="1657.5" x2="824.6" y2="1624.4"/>
<line x1="395.6" y1="1676" x2="911.2" y2="1638.2"/>
<line x1="473.7" y1="1697.3" x2="1008.3" y2="1653.8"/>
<line x1="564" y1="1721.8" x2="1118" y2="1671.3"/>
<line x1="267.3" y1="1641.2" x2="564" y2="1721.8"/>
<line x1="400.7" y1="1633.1" x2="722.7" y2="1707.3"/>
<line x1="524.5" y1="1625.5" x2="866.7" y2="1694.2"/>
<line x1="639.6" y1="1618.5" x2="997.9" y2="1682.2"/>
<line x1="747" y1="1612" x2="1118" y2="1671.3"/>
<line x1="406.4" y1="1137.7" x2="401.8" y2="1633"/>
<line x1="528.7" y1="1149.3" x2="525.8" y2="1625.5"/>
<line x1="641.9" y1="1160" x2="640.6" y2="1618.5"/>
<line x1="274" y1="1125.2" x2="267.3" y2="1641.2"/>
<line x1="747" y1="1170" x2="747" y2="1612"/>
<line x1="273.6" y1="1156.2" x2="747" y2="1196.3"/>
<line x1="272.4" y1="1247.5" x2="747" y2="1274.6"/>
<line x1="271.2" y1="1338.8" x2="747" y2="1352.8"/>
<line x1="270" y1="1430" x2="747" y2="1431"/>
<line x1="268.9" y1="1521.3" x2="747" y2="1509.3"/>
<line x1="267.7" y1="1612.4" x2="747" y2="1587.5"/>
<line x1="825" y1="1157.5" x2="824.2" y2="1624.3"/>
<line x1="912.3" y1="1143.5" x2="910.5" y2="1638.1"/>
<line x1="1010.8" y1="1127.7" x2="1007.7" y2="1653.7"/>
<line x1="747" y1="1170" x2="747" y2="1612"/>
<line x1="1122.7" y1="1109.7" x2="1118" y2="1671.3"/>
<line x1="747" y1="1196.3" x2="1122.4" y2="1142.9"/>
<line x1="747" y1="1274.6" x2="1121.6" y2="1242.3"/>
<line x1="747" y1="1352.8" x2="1120.8" y2="1341.8"/>
<line x1="747" y1="1431" x2="1119.9" y2="1441.2"/>
<line x1="747" y1="1509.3" x2="1119.1" y2="1540.7"/>
<line x1="747" y1="1587.5" x2="1118.3" y2="1640.3"/>
</g>
<path d="M269.5,1597C272.4,1594.4 280.8,1586.4 286.7,1581.6C292.7,1576.8 298.9,1572.4 305.3,1568.1C311.7,1563.9 318.2,1559.9 324.9,1556.1C331.5,1552.2 338.3,1548.6 345,1545C351.8,1541.4 358.7,1537.9 365.5,1534.4C372.3,1530.8 379.2,1527.3 385.9,1523.7C392.6,1520 399.3,1516.3 405.8,1512.4C412.3,1508.4 421.8,1502.1 425,1500C422.6,1503 415.9,1512.3 410.5,1517.7C405.1,1523.1 398.9,1527.7 392.6,1532.4C386.4,1537.1 379.6,1541.4 373.1,1545.9C366.6,1550.4 360,1555.1 353.5,1559.6C346.9,1564.1 340.4,1568.8 333.8,1573.1C327.2,1577.4 320.7,1581.9 313.9,1585.4C307,1589 300.2,1592.5 292.8,1594.4C285.4,1596.3 273.4,1596.6 269.5,1597Z" fill="url(#gC2)"/>
<path d="M570.6,1256.7C575,1253.4 588.1,1243.2 597.1,1236.7C606.1,1230.2 615.3,1223.9 624.7,1217.8C634.1,1211.7 643.6,1205.8 653.3,1200.2C663,1194.7 672.8,1189.3 682.8,1184.3C692.8,1179.2 702.9,1174.5 713.2,1170.1C723.5,1165.7 733.9,1161.6 744.4,1158C754.9,1154.4 765.5,1151.1 776.2,1148.3C787,1145.5 797.8,1143 808.8,1141.1C819.7,1139.2 830.7,1137.8 841.8,1136.8C852.9,1135.9 864,1135.4 875.2,1135.4C886.3,1135.4 897.5,1135.9 908.6,1136.8C919.7,1137.8 930.8,1139.2 941.8,1141.1C952.8,1143 963.7,1145.4 974.5,1148.2C985.2,1151.1 995.9,1154.4 1006.4,1158.1C1016.9,1161.9 1027.2,1166.2 1037.3,1170.9C1047.4,1175.6 1057.3,1180.8 1066.9,1186.4C1076.5,1192 1085.9,1198.1 1094.9,1204.7C1104,1211.2 1116.7,1222.2 1121.1,1225.7C1117.7,1230.4 1107.7,1244.3 1100.8,1253.7C1093.9,1263 1087,1272.5 1079.9,1281.9C1072.9,1291.3 1065.7,1300.7 1058.5,1310.1C1051.2,1319.4 1043.8,1328.7 1036.2,1337.9C1028.6,1347 1020.9,1356.1 1013.1,1365C1005.2,1373.9 997.2,1382.7 989,1391.2C980.7,1399.7 972.4,1408.1 963.8,1416.1C955.2,1424.2 946.4,1432 937.4,1439.5C928.4,1447 919.2,1454.2 909.7,1461.1C900.3,1467.9 890.6,1474.4 880.6,1480.4C870.7,1486.4 860.5,1492.1 850.1,1497.2C839.6,1502.3 829,1506.9 818,1510.9C807,1514.8 795.8,1518.3 784.3,1521C772.8,1523.7 754.9,1526 749,1527C745.5,1525.3 735.2,1520.2 728.1,1517C721.1,1513.7 714,1510.6 706.8,1507.6C699.6,1504.6 692.4,1501.7 685.1,1499.1C677.8,1496.4 670.4,1493.9 663,1491.6C655.6,1489.3 648.1,1487.2 640.7,1485.4C633.2,1483.5 625.6,1481.9 618.1,1480.6C610.5,1479.3 602.9,1478.2 595.3,1477.4C587.6,1476.7 580,1476.3 572.4,1476.1C564.7,1476 557,1476.2 549.4,1476.6C541.8,1477 534.1,1477.8 526.5,1478.8C518.9,1479.8 511.3,1481.1 503.7,1482.6C496.1,1484.2 488.6,1486 481.1,1488C473.7,1490.1 466.3,1492.4 458.9,1495C451.6,1497.5 444.3,1500.3 437.1,1503.3C429.9,1506.3 419.3,1511.4 415.7,1513L413.4,1509.3C415.9,1506 423.4,1496.1 428.4,1489.5C433.3,1482.8 438.2,1476.1 443,1469.4C447.8,1462.7 452.6,1455.9 457.3,1449.1C462,1442.3 466.7,1435.4 471.3,1428.6C475.9,1421.7 480.4,1414.8 484.9,1407.8C489.4,1400.9 493.9,1393.9 498.2,1386.9C502.6,1379.8 506.9,1372.8 511.2,1365.7C515.5,1358.6 519.7,1351.5 523.8,1344.3C527.9,1337.1 532,1330 536,1322.7C540.1,1315.5 544,1308.2 547.9,1300.9C551.8,1293.6 555.7,1286.3 559.5,1278.9C563.2,1271.5 568.7,1260.4 570.6,1256.7Z" fill="url(#gC)"/>
<line x1="571" y1="1045" x2="564" y2="1721.8" stroke="#e2e6e6" stroke-width="1.3" stroke-opacity="0.85"/>
<text class="lt" transform="translate(40.7 967.8) scale(1.176 1)" font-size="104.1" fill="#000">C</text>
<text class="k" x="274" y="1116.1" font-size="19" transform="rotate(-5 274 1109.3)">1</text>
<text class="k" x="332.4" y="1099.3" font-size="20.2" transform="rotate(-5 332.4 1092)">0.5</text>
<text class="k" x="402.4" y="1079.9" font-size="21.6" transform="rotate(-5 402.4 1072.1)">0</text>
<text class="k" x="481.2" y="1058.4" font-size="23.2" transform="rotate(-5 481.2 1050)">-0.5</text>
<text class="k" x="570.6" y="1033.3" font-size="25" transform="rotate(-5 570.6 1024.3)">-1</text>
<text class="k" x="731.5" y="1051.9" font-size="23.8" transform="rotate(2.5 731.5 1043.3)">-0.5</text>
<text class="k" x="873.2" y="1068.8" font-size="22.7" transform="rotate(2.5 873.2 1060.6)">0</text>
<text class="k" x="1003.8" y="1084.3" font-size="21.6" transform="rotate(2.5 1003.8 1076.5)">0.5</text>
<text class="k" x="1122.5" y="1098.2" font-size="20.7" transform="rotate(2.5 1122.5 1090.7)">1</text>
<text class="k" x="266" y="1662.2" font-size="19" transform="rotate(6 266 1655.4)">1</text>
<text class="k" x="326.2" y="1680.4" font-size="20.2" transform="rotate(6 326.2 1673.1)">0.5</text>
<text class="k" x="394.8" y="1701.3" font-size="21.6" transform="rotate(6 394.8 1693.5)">0</text>
<text class="k" x="472.3" y="1722.7" font-size="23.2" transform="rotate(6 472.3 1714.3)">-0.5</text>
<text class="k" x="561.8" y="1751.2" font-size="25" transform="rotate(6 561.8 1742.2)">-1</text>
<text class="k" x="722.4" y="1733.9" font-size="23.8" transform="rotate(-3 722.4 1725.3)">-0.5</text>
<text class="k" x="865.2" y="1719.4" font-size="22.7" transform="rotate(-3 865.2 1711.2)">0</text>
<text class="k" x="997.2" y="1705.7" font-size="21.6" transform="rotate(-3 997.2 1697.9)">0.5</text>
<text class="k" x="1116.7" y="1693.9" font-size="20.7" transform="rotate(-3 1116.7 1686.4)">1</text>
<text class="k e" x="263.6" y="1163" font-size="19">0.7</text>
<text class="k e" x="262.4" y="1254.3" font-size="19">0.6</text>
<text class="k e" x="261.2" y="1345.6" font-size="19">0.5</text>
<text class="k e" x="260" y="1436.8" font-size="19">0.4</text>
<text class="k e" x="258.9" y="1528.1" font-size="19">0.3</text>
<text class="k e" x="257.7" y="1619.2" font-size="19">0.2</text>
<text class="k s" x="1129.4" y="1150.4" font-size="20.7">0.7</text>
<text class="k s" x="1128.6" y="1249.8" font-size="20.7">0.6</text>
<text class="k s" x="1127.8" y="1349.3" font-size="20.7">0.5</text>
<text class="k s" x="1126.9" y="1448.7" font-size="20.7">0.4</text>
<text class="k s" x="1126.1" y="1548.2" font-size="20.7">0.3</text>
<text class="k s" x="1125.3" y="1647.8" font-size="20.7">0.2</text>
<text class="a" x="396.6" y="1043.6" font-size="35.2" transform="rotate(-16.4 396.6 1030.9)">Tween 80 (%)</text>
<text class="a" x="876.3" y="1033" font-size="36.6" transform="rotate(8.3 876.3 1019.8)">Capryol 90 (%)</text>
<text class="a" y="12.2" font-size="34" transform="translate(391.3 1734.2) rotate(20.1) skewX(-11) scale(1.02 0.86)">Tween 80 (%)</text>
<text class="a" y="13.2" font-size="36.6" transform="translate(867.5 1755.5) rotate(-8.9) skewX(3) scale(1 0.92)">Capryol 90 (%)</text>
<text class="a" x="199.6" y="1391.7" font-size="24.5" transform="rotate(-90 199.6 1382.9)">PDI</text>
<text class="a" x="1175.2" y="1401.3" font-size="26.5" transform="rotate(-90 1175.2 1391.8)">PDI</text>
</g>
<g id="panelD">
<g stroke="#d3d3d3" stroke-width="1.8" fill="none">
<line x1="1425.2" y1="1110.6" x2="1793.6" y2="1159.3"/>
<line x1="1563.8" y1="1105" x2="1912.9" y2="1156.6"/>
<line x1="1715.1" y1="1098.9" x2="2040.5" y2="1153.8"/>
<line x1="1880.8" y1="1092.2" x2="2177.2" y2="1150.7"/>
<line x1="2063" y1="1084.9" x2="2324.2" y2="1147.4"/>
<line x1="1425.2" y1="1110.6" x2="2063" y2="1084.9"/>
<line x1="1535.6" y1="1125.2" x2="2143.7" y2="1104.2"/>
<line x1="1632.3" y1="1138" x2="2212.6" y2="1120.7"/>
<line x1="1717.7" y1="1149.3" x2="2272.2" y2="1135"/>
<line x1="1793.6" y1="1159.3" x2="2324.2" y2="1147.4"/>
<line x1="1420.8" y1="1706.8" x2="1788.3" y2="1632"/>
<line x1="1552.7" y1="1723.3" x2="1903.2" y2="1641.7"/>
<line x1="1699" y1="1741.7" x2="2027.6" y2="1652.1"/>
<line x1="1862.2" y1="1762.1" x2="2162.6" y2="1663.4"/>
<line x1="2045.3" y1="1785.1" x2="2309.6" y2="1675.8"/>
<line x1="1420.8" y1="1706.8" x2="2045.3" y2="1785.1"/>
<line x1="1531.8" y1="1684.2" x2="2128.2" y2="1750.8"/>
<line x1="1628.3" y1="1664.6" x2="2198.1" y2="1721.9"/>
<line x1="1713.2" y1="1647.3" x2="2257.9" y2="1697.2"/>
<line x1="1788.3" y1="1632" x2="2309.6" y2="1675.8"/>
<line x1="1534.3" y1="1125" x2="1529.5" y2="1684.7"/>
<line x1="1630.8" y1="1137.8" x2="1625.7" y2="1665.1"/>
<line x1="1716.6" y1="1149.1" x2="1711.4" y2="1647.6"/>
<line x1="1425.2" y1="1110.6" x2="1420.8" y2="1706.8"/>
<line x1="1793.6" y1="1159.3" x2="1788.3" y2="1632"/>
<line x1="1424.8" y1="1158.4" x2="1793.2" y2="1196.5"/>
<line x1="1424.2" y1="1249.4" x2="1792.4" y2="1268.9"/>
<line x1="1423.5" y1="1340.4" x2="1791.6" y2="1341.5"/>
<line x1="1422.8" y1="1431.4" x2="1790.7" y2="1414"/>
<line x1="1422.2" y1="1522.4" x2="1789.9" y2="1486.4"/>
<line x1="1421.5" y1="1613.4" x2="1789.1" y2="1558.9"/>
<line x1="1420.8" y1="1704.1" x2="1788.3" y2="1630.9"/>
<line x1="1915.3" y1="1156.6" x2="1908.1" y2="1642.1"/>
<line x1="2044" y1="1153.7" x2="2034.5" y2="1652.7"/>
<line x1="2180" y1="1150.6" x2="2168.1" y2="1663.9"/>
<line x1="1793.6" y1="1159.3" x2="1788.3" y2="1632"/>
<line x1="2324.2" y1="1147.4" x2="2309.6" y2="1675.8"/>
<line x1="1793.2" y1="1196.5" x2="2323.1" y2="1188.1"/>
<line x1="1792.4" y1="1268.9" x2="2320.8" y2="1269.5"/>
<line x1="1791.6" y1="1341.5" x2="2318.6" y2="1351"/>
<line x1="1790.7" y1="1414" x2="2316.3" y2="1432.4"/>
<line x1="1789.9" y1="1486.4" x2="2314.1" y2="1513.8"/>
<line x1="1789.1" y1="1558.9" x2="2311.8" y2="1595.2"/>
<line x1="1788.3" y1="1630.9" x2="2309.6" y2="1675.8"/>
</g>
<path d="M1422.6,1445C1427.9,1443.1 1443.7,1436.7 1454.6,1433.5C1465.5,1430.3 1476.9,1427.7 1488.2,1426C1499.5,1424.2 1511.1,1423.1 1522.5,1422.8C1534,1422.6 1545.5,1423.2 1556.7,1424.7C1567.9,1426.2 1579.1,1428.6 1589.8,1432C1600.6,1435.3 1611,1439.9 1621.3,1444.5C1631.7,1449.2 1641.8,1454.8 1652.1,1459.7C1662.4,1464.7 1672.7,1470 1683.3,1474.3C1693.8,1478.6 1704.6,1482.5 1715.6,1485.7C1726.5,1488.9 1737.6,1491.5 1748.8,1493.5C1760,1495.5 1771.3,1496.9 1782.6,1497.7C1793.9,1498.5 1805.3,1498.7 1816.6,1498.2C1827.8,1497.8 1839.1,1496.7 1850.3,1494.9C1861.4,1493.2 1872.5,1490.8 1883.4,1487.8C1894.3,1484.8 1905,1481 1915.5,1476.7C1926,1472.5 1936.3,1467.4 1946.5,1462.2C1956.7,1456.9 1966.7,1451 1976.6,1445.1C1986.4,1439.1 1996.1,1432.7 2005.8,1426.4C2015.4,1420 2024.9,1413.5 2034.3,1407.1C2043.7,1400.6 2053,1394.3 2062.2,1387.9C2071.4,1381.4 2080.5,1375 2089.3,1368.2C2098.1,1361.3 2106.7,1354.4 2115,1346.8C2123.3,1339.1 2131.3,1331 2139.1,1322.5C2146.9,1314 2154.3,1304.8 2161.8,1295.8C2169.3,1286.8 2176.6,1277.4 2184.1,1268.5C2191.7,1259.5 2199.2,1250.5 2207.1,1242.3C2215,1234.1 2223.1,1226.1 2231.7,1219.2C2240.3,1212.3 2249.3,1205.8 2259,1200.9C2268.6,1196.1 2278.9,1191.5 2289.7,1190.1C2300.6,1188.7 2318.5,1192.1 2324.2,1192.5C2320.9,1197.2 2311.1,1211.5 2304.4,1220.9C2297.8,1230.4 2291.1,1239.8 2284.4,1249.2C2277.6,1258.6 2270.8,1268 2264,1277.2C2257.1,1286.5 2250.1,1295.7 2243.1,1304.9C2236.1,1314 2229,1323.1 2221.7,1332.1C2214.5,1341.1 2207.2,1350 2199.8,1358.8C2192.3,1367.6 2184.8,1376.3 2177.2,1384.9C2169.5,1393.5 2161.7,1401.9 2153.8,1410.3C2145.9,1418.6 2137.9,1426.8 2129.7,1434.9C2121.5,1442.9 2113.2,1450.9 2104.7,1458.6C2096.2,1466.4 2087.6,1474 2078.8,1481.4C2070,1488.8 2061,1496.1 2051.9,1503.2C2042.8,1510.2 2033.5,1517.1 2024.1,1523.9C2014.8,1530.6 2005.2,1537.2 1995.6,1543.6C1985.9,1550 1976.1,1556.3 1966.3,1562.3C1956.4,1568.4 1946.4,1574.4 1936.3,1580C1926.2,1585.7 1916,1591.3 1905.7,1596.3C1895.3,1601.4 1884.8,1606.3 1874.1,1610.5C1863.4,1614.8 1852.5,1618.6 1841.4,1621.8C1830.3,1625 1819,1627.7 1807.7,1629.8C1796.4,1631.9 1784.9,1633.4 1773.4,1634.3C1761.9,1635.3 1750.4,1635.6 1738.9,1635.4C1727.4,1635.1 1716,1634.3 1704.6,1632.8C1693.3,1631.3 1682.1,1629.1 1671,1626.4C1660,1623.6 1649.1,1620.2 1638.5,1616.1C1627.8,1612 1617.4,1607.2 1607.3,1601.9C1597.1,1596.6 1587.2,1590.6 1577.5,1584.3C1567.8,1578 1558.4,1571.1 1549.1,1564C1539.8,1556.8 1530.7,1549.3 1521.8,1541.6C1512.9,1533.9 1504.2,1525.8 1495.7,1517.8C1487.1,1509.8 1478.7,1501.5 1470.5,1493.3C1462.2,1485.2 1454.1,1476.9 1446.2,1468.8C1438.2,1460.8 1426.5,1449 1422.6,1445Z" fill="url(#gD)"/>
<path d="M2112,1350C2110.9,1353.7 2107.6,1364.7 2105.1,1372C2102.7,1379.3 2100.1,1386.5 2097.4,1393.7C2094.7,1400.8 2091.9,1408 2089.1,1415.1C2086.3,1422.2 2083.3,1429.3 2080.5,1436.4C2077.6,1443.6 2074.7,1450.7 2071.9,1457.8C2069.1,1464.9 2066.3,1472.1 2063.6,1479.3C2061,1486.5 2057.3,1497.4 2056,1501C2059.8,1497.7 2071.2,1487.9 2078.8,1481.3C2086.4,1474.7 2094.1,1468.2 2101.7,1461.5C2109.2,1454.9 2116.8,1448.2 2124.2,1441.4C2131.6,1434.6 2139,1427.7 2146.1,1420.7C2153.3,1413.6 2160.3,1406.4 2167.1,1399C2173.9,1391.6 2180.5,1384.1 2186.9,1376.2C2193.2,1368.4 2202,1356 2205,1352L2112,1350Z" fill="url(#gD2)"/>
<line x1="2063" y1="1084.9" x2="2045.3" y2="1785.1" stroke="#e2e6e6" stroke-width="1.3" stroke-opacity="0.85"/>
<text class="lt" transform="translate(1286.4 985) scale(1.003 1)" font-size="104.1" fill="#000">D</text>
<text class="k" x="1425.2" y="1097.7" font-size="22" transform="rotate(-1 1425.2 1089.8)">1</text>
<text class="k" x="1565.6" y="1091.4" font-size="22.9" transform="rotate(-1 1565.6 1083.2)">0.5</text>
<text class="k" x="1717.4" y="1084.7" font-size="23.8" transform="rotate(-1 1717.4 1076.1)">0</text>
<text class="k" x="1882.2" y="1077.5" font-size="24.8" transform="rotate(-1 1882.2 1068.6)">-0.5</text>
<text class="k" x="2063" y="1069.9" font-size="25.8" transform="rotate(-1 2063 1060.6)">-1</text>
<text class="k" x="2144" y="1089.5" font-size="23.9" transform="rotate(5 2144 1080.9)">-0.5</text>
<text class="k" x="2212.2" y="1106.7" font-size="22.2" transform="rotate(5 2212.2 1098.7)">0</text>
<text class="k" x="2273.3" y="1121.7" font-size="20.8" transform="rotate(5 2273.3 1114.2)">0.5</text>
<text class="k" x="2324.2" y="1135.3" font-size="19.5" transform="rotate(5 2324.2 1128.3)">1</text>
<text class="k" x="1419.5" y="1728.8" font-size="22" transform="rotate(3 1419.5 1720.9)">1</text>
<text class="k" x="1556.7" y="1745.9" font-size="22.9" transform="rotate(3 1556.7 1737.7)">0.5</text>
<text class="k" x="1705" y="1767.2" font-size="23.8" transform="rotate(3 1705 1758.6)">0</text>
<text class="k" x="1867" y="1789.6" font-size="24.8" transform="rotate(3 1867 1780.7)">-0.5</text>
<text class="k" x="2043.1" y="1813.5" font-size="25.8" transform="rotate(3 2043.1 1804.2)">-1</text>
<text class="k" x="2066.5" y="1795.7" font-size="25.8" transform="rotate(-6 2066.5 1786.4)">-1</text>
<text class="k" x="2157.3" y="1761.8" font-size="23.9" transform="rotate(-6 2157.3 1753.2)">-0.5</text>
<text class="k" x="2209.1" y="1732" font-size="22.2" transform="rotate(-6 2209.1 1724)">0</text>
<text class="k" x="2277.7" y="1706.3" font-size="20.8" transform="rotate(-6 2277.7 1698.8)">0.5</text>
<text class="k" x="2319.8" y="1682.8" font-size="19.5" transform="rotate(-6 2319.8 1675.8)">1</text>
<text class="k e" x="1414.8" y="1166.3" font-size="22">0.8</text>
<text class="k e" x="1414.2" y="1257.3" font-size="22">0.7</text>
<text class="k e" x="1413.5" y="1348.3" font-size="22">0.6</text>
<text class="k e" x="1412.8" y="1439.3" font-size="22">0.5</text>
<text class="k e" x="1412.2" y="1530.3" font-size="22">0.4</text>
<text class="k e" x="1411.5" y="1621.3" font-size="22">0.3</text>
<text class="k e" x="1410.8" y="1712" font-size="22">0.2</text>
<text class="k s" x="2332.1" y="1195.1" font-size="19.5">0.8</text>
<text class="k s" x="2329.8" y="1276.5" font-size="19.5">0.7</text>
<text class="k s" x="2327.6" y="1358" font-size="19.5">0.6</text>
<text class="k s" x="2325.3" y="1439.4" font-size="19.5">0.5</text>
<text class="k s" x="2323.1" y="1520.8" font-size="19.5">0.4</text>
<text class="k s" x="2320.8" y="1602.2" font-size="19.5">0.3</text>
<text class="k s" x="2318.6" y="1682.8" font-size="19.5">0.2</text>
<text class="a" x="1717.4" y="1041.8" font-size="39" transform="rotate(-2.2 1717.4 1027.8)">Transcutol (%)</text>
<text class="a" x="2218.8" y="1068.5" font-size="36.7" transform="rotate(14.7 2218.8 1055.3)">Capryol 90 (%)</text>
<text class="a" y="13.6" font-size="37.8" transform="translate(1705 1801.5) rotate(7.8) skewX(-11) scale(1.02 0.86)">Transcutol (%)</text>
<text class="a" y="13.2" font-size="36.6" transform="translate(2272.4 1739.5) rotate(-20.7) skewX(3) scale(1 0.92)">Capryol 90 (%)</text>
<text class="a" x="1350.8" y="1417.7" font-size="29" transform="rotate(-90 1350.8 1407.3)">PDI</text>
<text class="a" x="2383.1" y="1425.6" font-size="26.5" transform="rotate(-90 2383.1 1416.1)">PDI</text>
</g>
<g id="panelE">
<g stroke="#d3d3d3" stroke-width="1.8" fill="none">
<line x1="271.8" y1="1950.4" x2="645" y2="1928.3"/>
<line x1="921.2" y1="1990.3" x2="1189.1" y2="1957.1"/>
<line x1="271.8" y1="1950.4" x2="921.2" y2="1990.3"/>
<line x1="645" y1="1928.3" x2="1189.1" y2="1957.1"/>
<line x1="282.8" y1="2552.1" x2="648" y2="2402"/>
<line x1="422.3" y1="2584.1" x2="765.3" y2="2424"/>
<line x1="569.6" y1="2618" x2="887.7" y2="2446.9"/>
<line x1="725.3" y1="2653.7" x2="1015.6" y2="2470.9"/>
<line x1="890.2" y1="2691.6" x2="1149.2" y2="2495.9"/>
<line x1="282.8" y1="2552.1" x2="890.2" y2="2691.6"/>
<line x1="391.2" y1="2507.5" x2="968.4" y2="2632.5"/>
<line x1="486.9" y1="2468.2" x2="1036.5" y2="2581.1"/>
<line x1="571.9" y1="2433.3" x2="1096.3" y2="2535.9"/>
<line x1="648" y1="2402" x2="1149.2" y2="2495.9"/>
<line x1="383.2" y1="1943.8" x2="391.5" y2="2507.4"/>
<line x1="481.1" y1="1938" x2="487.2" y2="2468.1"/>
<line x1="567.7" y1="1932.9" x2="572.1" y2="2433.2"/>
<line x1="271.8" y1="1950.4" x2="282.8" y2="2552.1"/>
<line x1="645" y1="1928.3" x2="648" y2="2402"/>
<line x1="271.8" y1="1950.4" x2="645" y2="1928.9"/>
<line x1="275.1" y1="2130.2" x2="645.9" y2="2069.7"/>
<line x1="278.3" y1="2303.5" x2="646.8" y2="2205.7"/>
<line x1="281.3" y1="2470.2" x2="647.6" y2="2337.1"/>
<line x1="766.9" y1="1934.8" x2="761.2" y2="2423.2"/>
<line x1="897.5" y1="1941.7" x2="882" y2="2445.8"/>
<line x1="1037.9" y1="1949.1" x2="1011" y2="2470"/>
<line x1="645" y1="1928.3" x2="648" y2="2402"/>
<line x1="1189.1" y1="1957.1" x2="1149.2" y2="2495.9"/>
<line x1="645" y1="1928.9" x2="1189" y2="1958.4"/>
<line x1="645.9" y1="2069.7" x2="1177.2" y2="2117.8"/>
<line x1="646.8" y1="2205.7" x2="1165.8" y2="2271.9"/>
<line x1="647.6" y1="2337.1" x2="1154.7" y2="2421.5"/>
</g>
<path d="M271.8,2006.2C275.2,2009.9 284.8,2021.1 291.9,2028.4C299,2035.6 306.6,2042.9 314.4,2049.8C322.2,2056.8 330.5,2063.6 338.9,2070C347.4,2076.3 356.2,2082.5 365.2,2088.1C374.2,2093.7 383.5,2099 393,2103.7C402.4,2108.3 412.1,2112.5 421.8,2115.9C431.6,2119.4 441.5,2122.3 451.5,2124.3C461.5,2126.4 471.6,2127.8 481.7,2128.2C491.8,2128.7 502,2128.2 512.1,2127C522.2,2125.7 532.3,2123.5 542.1,2120.6C551.9,2117.6 561.6,2113.8 570.9,2109.3C580.2,2104.8 589.3,2099.4 597.8,2093.5C606.3,2087.5 614.5,2080.7 622,2073.3C629.5,2065.9 639.3,2053.2 642.8,2049.2C645.6,2054.1 654,2068.9 659.8,2078.9C665.5,2088.9 671.3,2099.1 677.3,2109.2C683.3,2119.3 689.5,2129.6 695.9,2139.5C702.3,2149.5 708.8,2159.5 715.7,2169.2C722.6,2178.8 729.8,2188.3 737.3,2197.4C744.9,2206.5 752.7,2215.3 761.1,2223.6C769.4,2231.8 778.1,2239.8 787.3,2247C796.5,2254.3 806.3,2261.1 816.4,2267C826.5,2273 837.3,2278.4 848.1,2282.7C859,2287.1 870.2,2290.7 881.5,2293.1C892.8,2295.5 904.3,2297 915.7,2297.1C927,2297.3 938.5,2296.2 949.7,2294.2C961,2292.1 972.2,2288.9 983.1,2285C994,2281 1004.8,2276.1 1015.2,2270.6C1025.6,2265.1 1035.8,2258.7 1045.6,2251.9C1055.3,2245.2 1064.7,2237.7 1073.8,2230.1C1082.8,2222.4 1091.6,2214.3 1100.1,2206.1C1108.7,2197.9 1117,2189.3 1125.2,2180.9C1133.5,2172.5 1141.5,2163.8 1149.6,2155.5C1157.6,2147.2 1169.6,2135.2 1173.6,2131.1C1171.7,2136.4 1166.1,2152.3 1161.9,2162.8C1157.8,2173.3 1153.3,2183.7 1148.6,2194.1C1143.9,2204.4 1139,2214.7 1133.7,2224.9C1128.5,2235 1123,2245.1 1117.3,2255C1111.6,2264.9 1105.6,2274.7 1099.4,2284.4C1093.2,2294 1086.7,2303.5 1080,2312.9C1073.3,2322.2 1066.4,2331.4 1059.2,2340.4C1052.1,2349.4 1044.7,2358.2 1037.1,2366.8C1029.5,2375.4 1021.6,2383.8 1013.6,2392C1005.5,2400.2 997.2,2408.2 988.8,2415.9C980.3,2423.6 971.6,2431.1 962.7,2438.2C953.8,2445.4 944.6,2452.2 935.3,2458.7C926,2465.1 916.4,2471.2 906.7,2476.9C896.9,2482.5 886.9,2487.7 876.7,2492.5C866.5,2497.2 856.1,2501.4 845.5,2505.1C834.9,2508.8 824,2512 813,2514.5C801.9,2517 790.7,2519 779.2,2520.2C767.7,2521.5 749.9,2521.7 744.1,2522C737.8,2521.4 718.8,2520.4 706.5,2518.4C694.3,2516.5 682.3,2513.7 670.6,2510.2C658.9,2506.8 647.5,2502.6 636.4,2497.9C625.2,2493.1 614.4,2487.7 603.8,2481.7C593.2,2475.8 583,2469.3 572.9,2462.3C562.9,2455.4 553.2,2447.9 543.7,2440C534.3,2432.2 525.1,2423.9 516.3,2415.3C507.4,2406.7 498.8,2397.7 490.5,2388.6C482.2,2379.4 474.1,2369.9 466.4,2360.3C458.6,2350.6 451.2,2340.8 444,2330.8C436.8,2320.8 429.9,2310.7 423.2,2300.4C416.5,2290.2 410.1,2279.8 403.8,2269.3C397.5,2258.8 391.4,2248.2 385.5,2237.5C379.5,2226.8 373.8,2215.9 368.1,2205.1C362.5,2194.2 357,2183.3 351.5,2172.3C346,2161.3 340.7,2150.2 335.4,2139.2C330.1,2128.1 324.8,2117 319.6,2105.9C314.3,2094.8 309.1,2083.7 303.8,2072.6C298.6,2061.5 293.3,2050.4 288,2039.3C282.6,2028.2 274.5,2011.7 271.8,2006.2Z" fill="url(#gE)"/>
<path d="M1005.3,2401.6C1003.1,2402.9 996.6,2407.1 992,2409.1C987.4,2411.1 982.6,2412.6 977.8,2413.8C973,2414.9 968,2415.6 963,2416C958,2416.4 953,2416.4 947.9,2416.1C942.9,2415.9 937.8,2415.3 932.8,2414.6C927.8,2413.9 922.8,2412.9 917.9,2411.8C913,2410.8 905.9,2408.8 903.5,2408.2C900.3,2410.8 890.8,2418.5 884.6,2423.7C878.3,2429 872.1,2434.4 865.8,2439.7C859.5,2445 853.3,2450.4 847,2455.6C840.6,2460.9 834.3,2466.1 827.9,2471.2C821.4,2476.3 814.9,2481.3 808.2,2486C801.6,2490.8 794.8,2495.4 787.9,2499.7C780.9,2504 773.9,2508.1 766.6,2511.8C759.3,2515.5 747.8,2520.3 744.1,2522C749.6,2521.8 766.3,2521.7 777.2,2520.6C788.1,2519.6 798.9,2517.8 809.5,2515.5C820.1,2513.2 830.7,2510.3 841,2506.9C851.3,2503.6 861.5,2499.6 871.5,2495.2C881.5,2490.9 891.3,2486 900.9,2480.8C910.5,2475.5 919.9,2469.8 929.1,2463.8C938.3,2457.8 947.3,2451.4 956,2444.8C964.7,2438.1 973.2,2431.1 981.4,2423.9C989.6,2416.7 1001.3,2405.3 1005.3,2401.6Z" fill="url(#gE2)"/>
<line x1="921.2" y1="1990.3" x2="890.2" y2="2691.6" stroke="#e2e6e6" stroke-width="1.3" stroke-opacity="0.85"/>
<text class="lt" transform="translate(41.5 1842.5) scale(1.211 1)" font-size="104.1" fill="#000">E</text>
<text class="k" x="269.5" y="1937.6" font-size="22.2" transform="rotate(-1 269.5 1929.6)">-1</text>
<text class="k" x="382.4" y="1931.4" font-size="20.8" transform="rotate(-1 382.4 1923.9)">-0.5</text>
<text class="k" x="479.9" y="1927" font-size="19.6" transform="rotate(-1 479.9 1919.9)">0</text>
<text class="k" x="567.1" y="1923" font-size="18.5" transform="rotate(-1 567.1 1916.3)">0.5</text>
<text class="k" x="645.2" y="1919.1" font-size="17.5" transform="rotate(-1 645.2 1912.8)">1</text>
<text class="k" x="769.2" y="1925.1" font-size="18" transform="rotate(1.5 769.2 1918.6)">0.5</text>
<text class="k" x="900" y="1930.6" font-size="18.6" transform="rotate(1.5 900 1923.9)">0</text>
<text class="k" x="1040.7" y="1937.8" font-size="19.3" transform="rotate(1.5 1040.7 1930.9)">-0.5</text>
<text class="k" x="1187.7" y="1944.8" font-size="19.9" transform="rotate(1.5 1187.7 1937.6)">-1</text>
<text class="k" x="283.7" y="2577.9" font-size="22.2" transform="rotate(4 283.7 2569.9)">1</text>
<text class="k" x="417.9" y="2609.1" font-size="23" transform="rotate(4 417.9 2600.8)">0.5</text>
<text class="k" x="563.3" y="2641.8" font-size="23.9" transform="rotate(4 563.3 2633.2)">0</text>
<text class="k" x="720" y="2679.4" font-size="24.9" transform="rotate(4 720 2670.4)">-0.5</text>
<text class="k" x="888" y="2719.5" font-size="25.9" transform="rotate(4 888 2710.2)">-1</text>
<text class="k" x="912.3" y="2703.1" font-size="25.9" transform="rotate(-7.5 912.3 2693.8)">-1</text>
<text class="k" x="1000.9" y="2641.9" font-size="24.1" transform="rotate(-7.5 1000.9 2633.2)">-0.5</text>
<text class="k" x="1050.9" y="2589.9" font-size="22.5" transform="rotate(-7.5 1050.9 2581.8)">0</text>
<text class="k" x="1119.1" y="2544.2" font-size="21.2" transform="rotate(-7.5 1119.1 2536.6)">0.5</text>
<text class="k" x="1161.2" y="2504" font-size="19.9" transform="rotate(-7.5 1161.2 2496.8)">1</text>
<text class="k e" x="263.8" y="1958.4" font-size="22.2">-1</text>
<text class="k e" x="267.1" y="2138.2" font-size="22.2">-2</text>
<text class="k e" x="270.3" y="2311.5" font-size="22.2">-3</text>
<text class="k e" x="273.3" y="2478.2" font-size="22.2">-4</text>
<text class="k s" x="1197" y="1965.6" font-size="19.9">-1</text>
<text class="k s" x="1185.2" y="2125" font-size="19.9">-2</text>
<text class="k s" x="1173.8" y="2279.1" font-size="19.9">-3</text>
<text class="k s" x="1162.7" y="2428.7" font-size="19.9">-4</text>
<text class="a" x="479" y="1888.3" font-size="32.8" transform="rotate(-2.6 479 1876.5)">Capryol 90 (%)</text>
<text class="a" x="902.6" y="1894" font-size="30.4" transform="rotate(4 902.6 1883.1)">Tween 80 (%)</text>
<text class="a" y="13.3" font-size="37" transform="translate(560.9 2676.1) rotate(17.9) skewX(-11) scale(1.02 0.86)">Tween 80 (%)</text>
<text class="a" y="12.9" font-size="35.7" transform="translate(1113.8 2603.1) rotate(-35.2) skewX(3) scale(1 0.92)">Capryol 90 (%)</text>
<text class="a" x="213" y="2268.3" font-size="31.3" transform="rotate(-90 213 2257)">Zeta potential (mV)</text>
<text class="a" x="1221" y="2249.4" font-size="29" transform="rotate(-90 1221 2239)">Zeta potential (mV)</text>
</g>
<g id="panelF">
<g stroke="#d3d3d3" stroke-width="1.8" fill="none">
<line x1="1502.6" y1="2002.6" x2="1851.5" y2="1982.7"/>
<line x1="2111.7" y1="2040.3" x2="2358.3" y2="2008.4"/>
<line x1="1502.6" y1="2002.6" x2="2111.7" y2="2040.3"/>
<line x1="1851.5" y1="1982.7" x2="2358.3" y2="2008.4"/>
<line x1="1515" y1="2571" x2="1853" y2="2436"/>
<line x1="1640.4" y1="2600.9" x2="1959.1" y2="2455"/>
<line x1="1775.8" y1="2633.1" x2="2071.7" y2="2475.1"/>
<line x1="1922.4" y1="2668.1" x2="2191.3" y2="2496.5"/>
<line x1="2081.6" y1="2706" x2="2318.5" y2="2519.2"/>
<line x1="1515" y1="2571" x2="2081.6" y2="2706"/>
<line x1="1616.8" y1="2530.4" x2="2154.8" y2="2648.2"/>
<line x1="1705.5" y1="2494.9" x2="2217.4" y2="2598.9"/>
<line x1="1783.7" y1="2463.7" x2="2271.4" y2="2556.4"/>
<line x1="1853" y1="2436" x2="2318.5" y2="2519.2"/>
<line x1="1606" y1="1996.7" x2="1614.7" y2="2531.2"/>
<line x1="1697.3" y1="1991.5" x2="1703.1" y2="2495.9"/>
<line x1="1778.7" y1="1986.9" x2="1782.1" y2="2464.3"/>
<line x1="1502.6" y1="2002.6" x2="1515" y2="2571"/>
<line x1="1851.5" y1="1982.7" x2="1853" y2="2436"/>
<line x1="1503" y1="2019.5" x2="1851.5" y2="1996.3"/>
<line x1="1505.7" y1="2143.4" x2="1851.9" y2="2094.8"/>
<line x1="1508.2" y1="2261.5" x2="1852.2" y2="2189.1"/>
<line x1="1510.8" y1="2377" x2="1852.5" y2="2281.3"/>
<line x1="1513.3" y1="2491.3" x2="1852.8" y2="2372.2"/>
<line x1="1965.9" y1="1988.5" x2="1958.9" y2="2454.9"/>
<line x1="2088" y1="1994.7" x2="2071.4" y2="2475"/>
<line x1="2218.5" y1="2001.3" x2="2191" y2="2496.4"/>
<line x1="1851.5" y1="1982.7" x2="1853" y2="2436"/>
<line x1="2358.3" y1="2008.4" x2="2318.5" y2="2519.2"/>
<line x1="1851.5" y1="1996.3" x2="2357.1" y2="2023.9"/>
<line x1="1851.9" y1="2094.8" x2="2348.5" y2="2134.6"/>
<line x1="1852.2" y1="2189.1" x2="2340.2" y2="2240.8"/>
<line x1="1852.5" y1="2281.3" x2="2332.1" y2="2345"/>
<line x1="1852.8" y1="2372.2" x2="2324.1" y2="2447"/>
</g>
<path d="M1504,2105.8C1507.6,2109.3 1518,2119.9 1525.3,2127C1532.7,2134.2 1540.3,2141.8 1548.3,2148.8C1556.2,2155.8 1564.4,2162.9 1573,2169C1581.6,2175.2 1590.4,2181.1 1599.6,2185.8C1608.9,2190.4 1618.5,2194.4 1628.4,2197C1638.2,2199.5 1648.6,2200.9 1658.8,2201.2C1669,2201.4 1679.5,2200.5 1689.4,2198.5C1699.3,2196.6 1709.1,2193.5 1718.4,2189.5C1727.7,2185.6 1736.6,2180.5 1745.1,2174.9C1753.5,2169.2 1761.6,2162.6 1769.3,2155.5C1777,2148.5 1784.2,2140.7 1791.1,2132.6C1797.9,2124.5 1804.3,2115.8 1810.2,2106.9C1816.2,2098.1 1821.7,2088.8 1826.7,2079.6C1831.8,2070.4 1836.4,2060.9 1840.5,2051.6C1844.7,2042.3 1849.7,2028.5 1851.5,2023.9C1853.7,2029.5 1860.3,2046.6 1864.9,2057.7C1869.5,2068.9 1874.2,2079.9 1879.1,2090.8C1884,2101.7 1889.1,2112.5 1894.5,2123.1C1899.9,2133.7 1905.5,2144.1 1911.6,2154.4C1917.6,2164.7 1923.9,2174.8 1930.8,2184.7C1937.6,2194.6 1944.8,2204.3 1952.6,2213.7C1960.4,2223.2 1968.7,2232.7 1977.5,2241.3C1986.2,2249.9 1995.5,2258.3 2005.3,2265.5C2015,2272.7 2025.2,2279.3 2035.8,2284.2C2046.4,2289.1 2057.5,2293.1 2068.9,2295.1C2080.2,2297.2 2092.3,2297.5 2104.1,2296.4C2115.8,2295.2 2128,2292.1 2139.4,2288.1C2150.8,2284.1 2162,2278.4 2172.7,2272.4C2183.4,2266.5 2193.7,2259.6 2203.5,2252.4C2213.4,2245.3 2222.7,2237.8 2231.6,2229.8C2240.5,2221.8 2248.9,2213.3 2256.9,2204.4C2264.9,2195.6 2272.4,2186.2 2279.6,2176.6C2286.8,2167.1 2293.5,2157.1 2300.1,2147C2306.7,2136.9 2313,2126.5 2319.2,2116.2C2325.4,2105.8 2331.4,2095.2 2337.4,2084.8C2343.4,2074.4 2352.2,2058.8 2355.2,2053.6C2353,2058.8 2346.6,2074.4 2342.1,2084.7C2337.6,2095 2333.1,2105.2 2328.3,2115.4C2323.6,2125.6 2318.8,2135.7 2313.8,2145.7C2308.9,2155.8 2303.8,2165.8 2298.6,2175.7C2293.4,2185.6 2288,2195.5 2282.5,2205.2C2277.1,2215 2271.4,2224.7 2265.7,2234.3C2259.9,2243.8 2254,2253.4 2247.9,2262.8C2241.8,2272.2 2235.6,2281.5 2229.2,2290.8C2222.8,2300 2216.3,2309.1 2209.6,2318.1C2202.8,2327.2 2196,2336.1 2188.9,2344.9C2181.9,2353.7 2174.6,2362.4 2167.2,2371C2159.8,2379.6 2152.2,2388.1 2144.5,2396.3C2136.7,2404.5 2128.7,2412.7 2120.5,2420.4C2112.4,2428.2 2104,2435.8 2095.4,2443C2086.8,2450.2 2078,2457.2 2068.9,2463.7C2059.9,2470.2 2050.6,2476.4 2041.1,2482C2031.6,2487.7 2021.9,2492.9 2011.9,2497.6C2001.9,2502.2 1991.6,2506.4 1981.1,2509.8C1970.6,2513.3 1959.8,2516.2 1948.7,2518.3C1937.7,2520.4 1920.4,2521.6 1914.7,2522.3C1908.9,2521.8 1891.4,2521.1 1880,2519.4C1868.6,2517.8 1857.3,2515.4 1846.3,2512.5C1835.3,2509.5 1824.4,2505.9 1813.9,2501.7C1803.3,2497.5 1792.9,2492.7 1782.8,2487.5C1772.7,2482.2 1762.8,2476.4 1753.3,2470.1C1743.7,2463.9 1734.4,2457.1 1725.5,2449.9C1716.5,2442.8 1707.8,2435.2 1699.5,2427.3C1691.2,2419.4 1683.2,2411.1 1675.5,2402.6C1667.9,2394 1660.7,2385.1 1653.7,2376C1646.8,2366.9 1640.2,2357.5 1633.9,2348C1627.5,2338.5 1621.4,2328.8 1615.5,2319C1609.6,2309.2 1603.9,2299.2 1598.3,2289.2C1592.6,2279.2 1587.1,2269.1 1581.7,2259C1576.3,2248.9 1571,2238.7 1565.7,2228.5C1560.5,2218.3 1555.3,2208.1 1550.1,2197.9C1544.9,2187.7 1539.8,2177.4 1534.7,2167.2C1529.6,2156.9 1524.5,2146.7 1519.4,2136.4C1514.3,2126.2 1506.6,2110.9 1504,2105.8Z" fill="url(#gF)"/>
<path d="M1712,2439C1716.7,2440.8 1730.8,2446.9 1740.5,2449.7C1750.2,2452.5 1760.2,2454.5 1770.2,2455.8C1780.1,2457.1 1790.3,2457.7 1800.4,2457.6C1810.5,2457.4 1820.7,2456.6 1830.6,2455.1C1840.6,2453.7 1850.5,2451.5 1860.1,2448.7C1869.8,2446 1879.3,2442.5 1888.4,2438.5C1897.5,2434.5 1906.3,2429.9 1914.7,2424.8C1923.2,2419.6 1931.2,2413.9 1938.9,2407.7C1946.6,2401.6 1953.9,2394.9 1961,2387.9C1968,2380.8 1974.8,2373.4 1981.2,2365.7C1987.7,2358 1993.8,2349.9 1999.8,2341.6C2005.7,2333.4 2011.4,2324.8 2016.9,2316.2C2022.3,2307.6 2027.5,2298.7 2032.6,2289.9C2037.7,2281.1 2042.5,2272.1 2047.4,2263.1C2052.2,2254.2 2056.8,2245.2 2061.5,2236.2C2066.3,2227.3 2070.9,2218.3 2075.7,2209.5C2080.5,2200.7 2085.3,2191.9 2090.3,2183.3C2095.3,2174.8 2103.3,2162.2 2105.9,2158C2107.2,2160.8 2110.9,2169 2113.8,2174.8C2116.6,2180.5 2119.8,2186.6 2123.2,2192.6C2126.5,2198.5 2130.2,2204.6 2134.1,2210.3C2138,2216.1 2142.2,2221.8 2146.7,2227.1C2151.1,2232.3 2155.9,2237.3 2160.9,2241.7C2165.9,2246.1 2171.2,2250.1 2176.8,2253.2C2182.4,2256.3 2188.3,2258.9 2194.5,2260.5C2200.6,2262.1 2207.2,2263 2213.6,2262.8C2219.9,2262.6 2226.6,2261.6 2232.7,2259.5C2238.8,2257.3 2245,2254.3 2250.2,2250.1C2255.5,2245.9 2262.1,2236.8 2264.5,2234.2C2261.6,2238.9 2253.1,2253 2247.1,2262.3C2241.2,2271.7 2235.1,2281 2228.8,2290.3C2222.5,2299.5 2216,2308.8 2209.3,2317.9C2202.7,2327 2195.9,2336.1 2188.8,2344.9C2181.8,2353.8 2174.6,2362.6 2167.2,2371.2C2159.8,2379.8 2152.2,2388.2 2144.4,2396.4C2136.6,2404.6 2128.6,2412.6 2120.4,2420.3C2112.3,2428.1 2103.9,2435.6 2095.3,2442.8C2086.6,2450 2077.8,2457 2068.8,2463.6C2059.8,2470.2 2050.5,2476.5 2041,2482.2C2031.5,2488 2021.8,2493.4 2011.8,2498.1C2001.8,2502.8 1991.6,2507 1981.1,2510.4C1970.6,2513.9 1959.8,2516.8 1948.7,2518.7C1937.7,2520.7 1920.4,2521.7 1914.7,2522.3C1910.6,2522 1898.1,2521.7 1889.9,2520.8C1881.6,2519.9 1873.5,2518.6 1865.4,2516.9C1857.3,2515.3 1849.2,2513.3 1841.3,2511C1833.4,2508.7 1825.5,2506 1817.8,2503C1810.1,2500.1 1802.4,2496.8 1794.9,2493.3C1787.4,2489.7 1780.1,2485.9 1772.8,2481.8C1765.6,2477.8 1758.5,2473.4 1751.6,2468.9C1744.6,2464.3 1737.8,2459.5 1731.3,2454.5C1724.7,2449.6 1715.2,2441.6 1712,2439Z" fill="url(#gF2L)"/>
<path d="M1712,2439C1716.7,2440.8 1730.8,2446.9 1740.5,2449.7C1750.2,2452.5 1760.2,2454.5 1770.2,2455.8C1780.1,2457.1 1790.3,2457.7 1800.4,2457.6C1810.5,2457.4 1820.7,2456.6 1830.6,2455.1C1840.6,2453.7 1850.5,2451.5 1860.1,2448.7C1869.8,2446 1879.3,2442.5 1888.4,2438.5C1897.5,2434.5 1906.3,2429.9 1914.7,2424.8C1923.2,2419.6 1931.2,2413.9 1938.9,2407.7C1946.6,2401.6 1953.9,2394.9 1961,2387.9C1968,2380.8 1974.8,2373.4 1981.2,2365.7C1987.7,2358 1993.8,2349.9 1999.8,2341.6C2005.7,2333.4 2011.4,2324.8 2016.9,2316.2C2022.3,2307.6 2027.5,2298.7 2032.6,2289.9C2037.7,2281.1 2042.5,2272.1 2047.4,2263.1C2052.2,2254.2 2056.8,2245.2 2061.5,2236.2C2066.3,2227.3 2070.9,2218.3 2075.7,2209.5C2080.5,2200.7 2085.3,2191.9 2090.3,2183.3C2095.3,2174.8 2103.3,2162.2 2105.9,2158C2107.2,2160.8 2110.9,2169 2113.8,2174.8C2116.6,2180.5 2119.8,2186.6 2123.2,2192.6C2126.5,2198.5 2130.2,2204.6 2134.1,2210.3C2138,2216.1 2142.2,2221.8 2146.7,2227.1C2151.1,2232.3 2155.9,2237.3 2160.9,2241.7C2165.9,2246.1 2171.2,2250.1 2176.8,2253.2C2182.4,2256.3 2188.3,2258.9 2194.5,2260.5C2200.6,2262.1 2207.2,2263 2213.6,2262.8C2219.9,2262.6 2226.6,2261.6 2232.7,2259.5C2238.8,2257.3 2245,2254.3 2250.2,2250.1C2255.5,2245.9 2262.1,2236.8 2264.5,2234.2C2261.6,2238.9 2253.1,2253 2247.1,2262.3C2241.2,2271.7 2235.1,2281 2228.8,2290.3C2222.5,2299.5 2216,2308.8 2209.3,2317.9C2202.7,2327 2195.9,2336.1 2188.8,2344.9C2181.8,2353.8 2174.6,2362.6 2167.2,2371.2C2159.8,2379.8 2152.2,2388.2 2144.4,2396.4C2136.6,2404.6 2128.6,2412.6 2120.4,2420.3C2112.3,2428.1 2103.9,2435.6 2095.3,2442.8C2086.6,2450 2077.8,2457 2068.8,2463.6C2059.8,2470.2 2050.5,2476.5 2041,2482.2C2031.5,2488 2021.8,2493.4 2011.8,2498.1C2001.8,2502.8 1991.6,2507 1981.1,2510.4C1970.6,2513.9 1959.8,2516.8 1948.7,2518.7C1937.7,2520.7 1920.4,2521.7 1914.7,2522.3C1910.6,2522 1898.1,2521.7 1889.9,2520.8C1881.6,2519.9 1873.5,2518.6 1865.4,2516.9C1857.3,2515.3 1849.2,2513.3 1841.3,2511C1833.4,2508.7 1825.5,2506 1817.8,2503C1810.1,2500.1 1802.4,2496.8 1794.9,2493.3C1787.4,2489.7 1780.1,2485.9 1772.8,2481.8C1765.6,2477.8 1758.5,2473.4 1751.6,2468.9C1744.6,2464.3 1737.8,2459.5 1731.3,2454.5C1724.7,2449.6 1715.2,2441.6 1712,2439Z" fill="url(#gF2R)" mask="url(#mF)"/>
<path d="M1712,2439C1716.7,2440.8 1730.8,2446.9 1740.5,2449.7C1750.2,2452.5 1760.2,2454.5 1770.2,2455.8C1780.1,2457.1 1790.3,2457.7 1800.4,2457.6C1810.5,2457.4 1820.7,2456.6 1830.6,2455.1C1840.6,2453.7 1850.5,2451.5 1860.1,2448.7C1869.8,2446 1879.3,2442.5 1888.4,2438.5C1897.5,2434.5 1906.3,2429.9 1914.7,2424.8C1923.2,2419.6 1931.2,2413.9 1938.9,2407.7C1946.6,2401.6 1953.9,2394.9 1961,2387.9C1968,2380.8 1974.8,2373.4 1981.2,2365.7C1987.7,2358 1993.8,2349.9 1999.8,2341.6C2005.7,2333.4 2011.4,2324.8 2016.9,2316.2C2022.3,2307.6 2027.5,2298.7 2032.6,2289.9C2037.7,2281.1 2042.5,2272.1 2047.4,2263.1C2052.2,2254.2 2056.8,2245.2 2061.5,2236.2C2066.3,2227.3 2070.9,2218.3 2075.7,2209.5C2080.5,2200.7 2085.3,2191.9 2090.3,2183.3C2095.3,2174.8 2103.3,2162.2 2105.9,2158C2107.2,2160.8 2110.9,2169 2113.8,2174.8C2116.6,2180.5 2119.8,2186.6 2123.2,2192.6C2126.5,2198.5 2130.2,2204.6 2134.1,2210.3C2138,2216.1 2142.2,2221.8 2146.7,2227.1C2151.1,2232.3 2155.9,2237.3 2160.9,2241.7C2165.9,2246.1 2171.2,2250.1 2176.8,2253.2C2182.4,2256.3 2188.3,2258.9 2194.5,2260.5C2200.6,2262.1 2207.2,2263 2213.6,2262.8C2219.9,2262.6 2226.6,2261.6 2232.7,2259.5C2238.8,2257.3 2245,2254.3 2250.2,2250.1C2255.5,2245.9 2262.1,2236.8 2264.5,2234.2C2261.6,2238.9 2253.1,2253 2247.1,2262.3C2241.2,2271.7 2235.1,2281 2228.8,2290.3C2222.5,2299.5 2216,2308.8 2209.3,2317.9C2202.7,2327 2195.9,2336.1 2188.8,2344.9C2181.8,2353.8 2174.6,2362.6 2167.2,2371.2C2159.8,2379.8 2152.2,2388.2 2144.4,2396.4C2136.6,2404.6 2128.6,2412.6 2120.4,2420.3C2112.3,2428.1 2103.9,2435.6 2095.3,2442.8C2086.6,2450 2077.8,2457 2068.8,2463.6C2059.8,2470.2 2050.5,2476.5 2041,2482.2C2031.5,2488 2021.8,2493.4 2011.8,2498.1C2001.8,2502.8 1991.6,2507 1981.1,2510.4C1970.6,2513.9 1959.8,2516.8 1948.7,2518.7C1937.7,2520.7 1920.4,2521.7 1914.7,2522.3C1910.6,2522 1898.1,2521.7 1889.9,2520.8C1881.6,2519.9 1873.5,2518.6 1865.4,2516.9C1857.3,2515.3 1849.2,2513.3 1841.3,2511C1833.4,2508.7 1825.5,2506 1817.8,2503C1810.1,2500.1 1802.4,2496.8 1794.9,2493.3C1787.4,2489.7 1780.1,2485.9 1772.8,2481.8C1765.6,2477.8 1758.5,2473.4 1751.6,2468.9C1744.6,2464.3 1737.8,2459.5 1731.3,2454.5C1724.7,2449.6 1715.2,2441.6 1712,2439Z" fill="url(#gF2B)" mask="url(#mF2)"/>
<line x1="2111.7" y1="2040.3" x2="2081.6" y2="2706" stroke="#e2e6e6" stroke-width="1.3" stroke-opacity="0.85"/>
<text class="lt" transform="translate(1305 1875.1) scale(1.116 1)" font-size="104.1" fill="#000">F</text>
<text class="k" x="1501.8" y="1990.3" font-size="21" transform="rotate(-1 1501.8 1982.7)">-1</text>
<text class="k" x="1606.7" y="1984.5" font-size="19.7" transform="rotate(-1 1606.7 1977.4)">-0.5</text>
<text class="k" x="1697.9" y="1979.7" font-size="18.6" transform="rotate(-1 1697.9 1973)">0</text>
<text class="k" x="1779.8" y="1975.7" font-size="17.6" transform="rotate(-1 1779.8 1969.4)">0.5</text>
<text class="k" x="1852.5" y="1971.5" font-size="16.7" transform="rotate(-1 1852.5 1965.5)">1</text>
<text class="k" x="1967.6" y="1977.9" font-size="17.2" transform="rotate(1.5 1967.6 1971.7)">0.5</text>
<text class="k" x="2088.7" y="1982.9" font-size="17.7" transform="rotate(1.5 2088.7 1976.5)">0</text>
<text class="k" x="2220.2" y="1989.3" font-size="18.3" transform="rotate(1.5 2220.2 1982.7)">-0.5</text>
<text class="k" x="2357.4" y="1995.3" font-size="18.9" transform="rotate(1.5 2357.4 1988.5)">-1</text>
<text class="k" x="1515" y="2599.4" font-size="21" transform="rotate(4 1515 2591.8)">1</text>
<text class="k" x="1640.3" y="2628.8" font-size="21.8" transform="rotate(4 1640.3 2621)">0.5</text>
<text class="k" x="1775.4" y="2661" font-size="22.6" transform="rotate(4 1775.4 2652.9)">0</text>
<text class="k" x="1921.8" y="2696.8" font-size="23.6" transform="rotate(4 1921.8 2688.3)">-0.5</text>
<text class="k" x="2078.5" y="2734.9" font-size="24.6" transform="rotate(4 2078.5 2726)">-1</text>
<text class="k" x="2101.5" y="2719.4" font-size="24.6" transform="rotate(-7.5 2101.5 2710.5)">-1</text>
<text class="k" x="2182.5" y="2662" font-size="22.9" transform="rotate(-7.5 2182.5 2653.8)">-0.5</text>
<text class="k" x="2230.4" y="2611.9" font-size="21.4" transform="rotate(-7.5 2230.4 2604.2)">0</text>
<text class="k" x="2294.1" y="2568.5" font-size="20.1" transform="rotate(-7.5 2294.1 2561.3)">0.5</text>
<text class="k" x="2333.1" y="2529.1" font-size="18.9" transform="rotate(-7.5 2333.1 2522.3)">1</text>
<text class="k e" x="1496" y="2027.1" font-size="21">-2</text>
<text class="k e" x="1498.7" y="2151" font-size="21">-2.5</text>
<text class="k e" x="1501.2" y="2269.1" font-size="21">-3</text>
<text class="k e" x="1503.8" y="2384.6" font-size="21">-3.5</text>
<text class="k e" x="1506.3" y="2498.9" font-size="21">-4</text>
<text class="k s" x="2366.1" y="2030.7" font-size="18.9">-2</text>
<text class="k s" x="2357.5" y="2141.4" font-size="18.9">-2.5</text>
<text class="k s" x="2349.2" y="2247.6" font-size="18.9">-3</text>
<text class="k s" x="2341.1" y="2351.8" font-size="18.9">-3.5</text>
<text class="k s" x="2333.1" y="2453.8" font-size="18.9">-4</text>
<text class="a" x="1697" y="1944" font-size="30.4" transform="rotate(-2.2 1697 1933.1)">Capryol 90 (%)</text>
<text class="a" x="2092.7" y="1949.7" font-size="29" transform="rotate(3.8 2092.7 1939.3)">Transcutol (%)</text>
<text class="a" y="12.6" font-size="35" transform="translate(1773.2 2692.8) rotate(14.8) skewX(-11) scale(1.02 0.86)">Transcutol (%)</text>
<text class="a" y="12.1" font-size="33.5" transform="translate(2291 2621) rotate(-35.7) skewX(3) scale(1 0.92)">Capryol 90 (%)</text>
<text class="a" x="1437.7" y="2300.8" font-size="29.9" transform="rotate(-90 1437.7 2290)">Zeta potential (mV)</text>
<text class="a" x="2423.5" y="2288.9" font-size="27.6" transform="rotate(-90 2423.5 2279)">Zeta potential (mV)</text>
</g>
<g id="panelG">
<g stroke="#d3d3d3" stroke-width="1.8" fill="none">
<line x1="296.1" y1="2920.8" x2="770.7" y2="2935"/>
<line x1="364.2" y1="2913.3" x2="853.1" y2="2929.7"/>
<line x1="442.5" y1="2904.6" x2="945.5" y2="2923.7"/>
<line x1="533.5" y1="2894.5" x2="1049.7" y2="2917"/>
<line x1="640.6" y1="2882.7" x2="1168.2" y2="2909.3"/>
<line x1="296.1" y1="2920.8" x2="640.6" y2="2882.7"/>
<line x1="432.7" y1="2924.9" x2="799" y2="2890.7"/>
<line x1="556.2" y1="2928.6" x2="937.6" y2="2897.7"/>
<line x1="668.4" y1="2931.9" x2="1059.7" y2="2903.8"/>
<line x1="770.7" y1="2935" x2="1168.2" y2="2909.3"/>
<line x1="308.5" y1="3439.3" x2="770.7" y2="3377.3"/>
<line x1="379.8" y1="3463.4" x2="854.8" y2="3395.8"/>
<line x1="458.9" y1="3490" x2="946.9" y2="3416"/>
<line x1="547" y1="3519.8" x2="1048.3" y2="3438.2"/>
<line x1="645.9" y1="3553.1" x2="1160.3" y2="3462.8"/>
<line x1="308.5" y1="3439.3" x2="645.9" y2="3553.1"/>
<line x1="434.5" y1="3422.4" x2="788.9" y2="3528"/>
<line x1="553.1" y1="3406.5" x2="921.6" y2="3504.7"/>
<line x1="665" y1="3391.5" x2="1045.1" y2="3483"/>
<line x1="770.7" y1="3377.3" x2="1160.3" y2="3462.8"/>
<line x1="429.8" y1="2924.8" x2="438.3" y2="3421.9"/>
<line x1="552.6" y1="2928.5" x2="557.8" y2="3405.9"/>
<line x1="665.9" y1="2931.9" x2="668.3" y2="3391"/>
<line x1="296.1" y1="2920.8" x2="308.5" y2="3439.3"/>
<line x1="770.7" y1="2935" x2="770.7" y2="3377.3"/>
<line x1="296.9" y1="2955.8" x2="770.7" y2="2964.6"/>
<line x1="300.8" y1="3118.7" x2="770.7" y2="3103.6"/>
<line x1="304.7" y1="3279.9" x2="770.7" y2="3240.7"/>
<line x1="308.5" y1="3439.3" x2="770.7" y2="3376.7"/>
<line x1="854.1" y1="2929.6" x2="852.7" y2="3395.3"/>
<line x1="946.9" y1="2923.6" x2="943.8" y2="3415.3"/>
<line x1="1050.9" y1="2916.9" x2="1045.7" y2="3437.6"/>
<line x1="770.7" y1="2935" x2="770.7" y2="3377.3"/>
<line x1="1168.2" y1="2909.3" x2="1160.3" y2="3462.8"/>
<line x1="770.7" y1="2964.6" x2="1167.7" y2="2946"/>
<line x1="770.7" y1="3103.6" x2="1165.2" y2="3120"/>
<line x1="770.7" y1="3240.7" x2="1162.8" y2="3291"/>
<line x1="770.7" y1="3376.7" x2="1160.3" y2="3461.4"/>
</g>
<path d="M302.7,3210.8C304.6,3205.9 310.4,3191 314,3181.4C317.6,3171.9 320.9,3162.6 324.2,3153.3C327.6,3144 330.8,3134.9 334.2,3125.8C337.6,3116.7 341,3107.6 344.7,3098.5C348.5,3089.3 352.3,3080.1 356.6,3070.7C360.9,3061.4 365.5,3051.7 370.6,3042.4C375.6,3033.1 381.1,3023.6 387,3015C393,3006.3 399.3,2997.7 406.2,2990.3C413.1,2982.8 420.5,2975.8 428.4,2970.3C436.4,2964.7 444.9,2960 454,2956.8C463,2953.7 472.8,2951.9 482.6,2951.3C492.4,2950.7 502.7,2951.5 512.6,2953.3C522.6,2955 532.8,2958 542.2,2961.8C551.7,2965.7 560.9,2970.7 569.4,2976.3C577.9,2981.8 585.6,2988.6 593.2,2995.3C600.8,3002 607.8,3009.5 615.1,3016.5C622.5,3023.5 629.6,3030.8 637.2,3037.3C644.9,3043.8 653,3049.8 661.3,3055.6C669.6,3061.3 678.2,3066.5 687,3071.7C695.7,3076.8 704.7,3081.8 713.8,3086.4C722.9,3090.9 732.1,3095.3 741.5,3099.2C750.9,3103 760.4,3106.5 770.1,3109.4C779.8,3112.3 789.6,3114.8 799.5,3116.5C809.4,3118.2 819.5,3119.3 829.5,3119.7C839.6,3120 849.8,3119.7 859.8,3118.7C869.9,3117.6 879.9,3115.8 889.7,3113.4C899.4,3110.9 908.9,3107.3 918.4,3104C927.9,3100.6 937.2,3096.4 946.9,3093.1C956.5,3089.9 966.4,3086.7 976.3,3084.5C986.2,3082.3 996.3,3080.5 1006.2,3079.9C1016.2,3079.3 1026.2,3079.4 1035.9,3080.9C1045.6,3082.5 1055.2,3085.3 1064.5,3089C1073.9,3092.7 1083,3097.8 1091.9,3103.1C1100.7,3108.4 1109.4,3114.7 1117.7,3120.9C1126.1,3127.1 1134.2,3133.9 1142.1,3140.2C1149.9,3146.4 1160.9,3155.4 1164.7,3158.5C1160.7,3160.9 1148.8,3168.5 1140.5,3173.1C1132.3,3177.6 1123.8,3181.8 1115.3,3185.6C1106.7,3189.5 1098,3193 1089.2,3196.2C1080.3,3199.4 1071.4,3202.2 1062.3,3204.7C1053.3,3207.2 1044.1,3209.3 1034.9,3211.1C1025.7,3212.8 1016.4,3214.3 1007.1,3215.3C997.8,3216.3 988.5,3217 979.1,3217.3C969.8,3217.6 960.4,3217.5 951,3217.1C941.7,3216.6 932.3,3215.8 923.1,3214.5C913.8,3213.3 904.5,3211.7 895.4,3209.6C886.2,3207.6 877.1,3205.2 868.1,3202.3C859.2,3199.5 845.9,3194.2 841.5,3192.6C839.6,3195.5 833.9,3204 830.3,3209.8C826.6,3215.6 823.2,3221.5 819.7,3227.4C816.3,3233.3 813,3239.3 809.8,3245.3C806.5,3251.3 803.3,3257.4 800.1,3263.4C796.8,3269.4 793.7,3275.5 790.5,3281.5C787.2,3287.6 784,3293.6 780.7,3299.6C777.5,3305.6 772.4,3314.5 770.7,3317.5C766,3319.8 752.1,3327.1 742.7,3331.1C733.3,3335 723.7,3338.4 714.1,3341.2C704.5,3344.1 694.8,3346.3 685,3348.1C675.3,3349.9 665.5,3351.2 655.7,3352C645.9,3352.8 636,3353.1 626.2,3353C616.4,3352.9 606.5,3352.2 596.7,3351.2C586.9,3350.2 577.1,3348.8 567.4,3347C557.7,3345.1 548,3342.9 538.4,3340.3C528.8,3337.7 519.2,3334.7 509.8,3331.4C500.4,3328.1 491,3324.5 481.8,3320.5C472.6,3316.6 463.4,3312.3 454.4,3307.9C445.4,3303.4 436.5,3298.6 427.6,3293.7C418.8,3288.8 410.1,3283.7 401.5,3278.4C392.8,3273.1 384.3,3267.7 375.9,3262.1C367.5,3256.6 359.1,3250.9 350.9,3245.3C342.7,3239.6 334.6,3233.8 326.5,3228.1C318.5,3222.3 306.7,3213.7 302.7,3210.8Z" fill="url(#gG)"/>
<path d="M640.6,3039C644.4,3041.7 655.4,3050.1 663.2,3055.5C670.9,3060.8 679,3066.2 687.2,3071.2C695.4,3076.3 703.9,3081.2 712.4,3085.8C721,3090.3 729.8,3094.6 738.7,3098.4C747.6,3102.2 756.6,3105.7 765.8,3108.6C774.9,3111.5 784.1,3114 793.4,3115.8C802.7,3117.6 812.1,3118.8 821.5,3119.3C830.8,3119.9 840.3,3119.7 849.7,3119C859,3118.2 868.4,3116.8 877.7,3114.9C887.1,3113.1 896.3,3110.5 905.5,3107.7C914.7,3104.9 923.7,3101.3 932.9,3098.3C942.1,3095.2 951.3,3091.9 960.5,3089.3C969.8,3086.7 979.1,3084.2 988.4,3082.6C997.7,3081.1 1007,3079.9 1016.2,3079.9C1025.5,3079.9 1034.7,3080.6 1043.7,3082.5C1052.8,3084.5 1061.7,3087.7 1070.5,3091.5C1079.3,3095.3 1087.9,3100.3 1096.3,3105.5C1104.7,3110.7 1112.9,3116.7 1120.8,3122.6C1128.7,3128.5 1136.4,3135 1143.7,3140.9C1151,3146.9 1161.2,3155.6 1164.7,3158.5C1160.7,3160.9 1148.8,3168.5 1140.5,3173.1C1132.3,3177.6 1123.8,3181.8 1115.3,3185.6C1106.7,3189.5 1098,3193 1089.2,3196.2C1080.3,3199.4 1071.4,3202.2 1062.3,3204.7C1053.3,3207.2 1044.1,3209.3 1034.9,3211.1C1025.7,3212.8 1016.4,3214.3 1007.1,3215.3C997.8,3216.3 988.5,3217 979.1,3217.3C969.8,3217.6 960.4,3217.5 951,3217.1C941.7,3216.6 932.3,3215.8 923.1,3214.5C913.8,3213.3 904.5,3211.7 895.4,3209.6C886.2,3207.6 877.1,3205.2 868.1,3202.3C859.2,3199.5 845.9,3194.2 841.5,3192.6C836.3,3189.4 820.7,3180.1 810.3,3173.6C800,3167.2 789.9,3160.4 779.6,3154C769.2,3147.6 758.7,3141.3 748.2,3135.3C737.7,3129.2 726.8,3123.8 716.5,3117.5C706.2,3111.3 695.8,3105.2 686.5,3097.8C677.1,3090.3 668,3082.5 660.4,3072.7C652.7,3062.9 643.9,3044.6 640.6,3039Z" fill="url(#gG2)"/>
<line x1="640.6" y1="2882.7" x2="645.9" y2="3553.1" stroke="#e2e6e6" stroke-width="1.3" stroke-opacity="0.85"/>
<text class="lt" transform="translate(76.4 2764) scale(1.123 1)" font-size="104.1" fill="#000">G</text>
<text class="k" x="295.2" y="2908.7" font-size="19.1" transform="rotate(-3 295.2 2901.8)">1</text>
<text class="k" x="366.1" y="2901.1" font-size="20.3" transform="rotate(-3 366.1 2893.8)">0.5</text>
<text class="k" x="444.4" y="2891.8" font-size="21.6" transform="rotate(-3 444.4 2884)">0</text>
<text class="k" x="535.2" y="2881.3" font-size="23.1" transform="rotate(-3 535.2 2873)">-0.5</text>
<text class="k" x="639.6" y="2868.6" font-size="24.7" transform="rotate(-3 639.6 2859.7)">-1</text>
<text class="k" x="794.1" y="2877" font-size="23.5" transform="rotate(1.5 794.1 2868.5)">-0.5</text>
<text class="k" x="931.4" y="2884.2" font-size="22.4" transform="rotate(1.5 931.4 2876.1)">0</text>
<text class="k" x="1054.9" y="2890.9" font-size="21.4" transform="rotate(1.5 1054.9 2883.2)">0.5</text>
<text class="k" x="1168.2" y="2897.1" font-size="20.4" transform="rotate(1.5 1168.2 2889.8)">1</text>
<text class="k" x="307.2" y="3460.8" font-size="19.1" transform="rotate(6 307.2 3453.9)">1</text>
<text class="k" x="377.1" y="3484.2" font-size="20.3" transform="rotate(6 377.1 3476.9)">0.5</text>
<text class="k" x="455.5" y="3512.2" font-size="21.6" transform="rotate(6 455.5 3504.4)">0</text>
<text class="k" x="545.4" y="3545" font-size="23.1" transform="rotate(6 545.4 3536.7)">-0.5</text>
<text class="k" x="644.8" y="3582.3" font-size="24.7" transform="rotate(6 644.8 3573.4)">-1</text>
<text class="k" x="795.7" y="3550.9" font-size="23.5" transform="rotate(-3 795.7 3542.4)">-0.5</text>
<text class="k" x="928.7" y="3525.8" font-size="22.4" transform="rotate(-3 928.7 3517.7)">0</text>
<text class="k" x="1049.6" y="3502.3" font-size="21.4" transform="rotate(-3 1049.6 3494.6)">0.5</text>
<text class="k" x="1159.4" y="3482" font-size="20.4" transform="rotate(-3 1159.4 3474.7)">1</text>
<text class="k e" x="288.9" y="2962.7" font-size="19.1">100</text>
<text class="k e" x="292.8" y="3125.6" font-size="19.1">95</text>
<text class="k e" x="296.7" y="3286.8" font-size="19.1">90</text>
<text class="k e" x="300.5" y="3446.2" font-size="19.1">85</text>
<text class="k s" x="1174.7" y="2953.3" font-size="20.4">100</text>
<text class="k s" x="1172.2" y="3127.3" font-size="20.4">95</text>
<text class="k s" x="1169.8" y="3298.3" font-size="20.4">90</text>
<text class="k s" x="1167.3" y="3468.7" font-size="20.4">85</text>
<text class="a" x="442.2" y="2848.7" font-size="35.2" transform="rotate(-7.6 442.2 2836)">Tween 80 (%)</text>
<text class="a" x="932.3" y="2845.4" font-size="36.6" transform="rotate(4.7 932.3 2832.2)">Capryol 90 (%)</text>
<text class="a" y="12.2" font-size="33.9" transform="translate(452 3543.3) rotate(20.9) skewX(-11) scale(1.02 0.86)">Tween 80 (%)</text>
<text class="a" y="12.9" font-size="35.7" transform="translate(932.3 3558.8) rotate(-9.6) skewX(3) scale(1 0.92)">Capryol 90 (%)</text>
<text class="a" x="229.7" y="3194.4" font-size="27.6" transform="rotate(-90 229.7 3184.5)">Drug loading (%)</text>
<text class="a" x="1223.6" y="3200.5" font-size="29.2" transform="rotate(-90 1223.6 3190)">Drug loading (%)</text>
</g>
<g id="panelH">
<g stroke="#d3d3d3" stroke-width="1.8" fill="none">
<line x1="1565.1" y1="2922.6" x2="1960.9" y2="2981.5"/>
<line x1="1649.3" y1="2903.9" x2="2047.8" y2="2968.5"/>
<line x1="1742.6" y1="2883.1" x2="2142.4" y2="2954.3"/>
<line x1="1846.7" y1="2860" x2="2245.9" y2="2938.7"/>
<line x1="1963.5" y1="2834" x2="2359.6" y2="2921.7"/>
<line x1="1565.1" y1="2922.6" x2="1963.5" y2="2834"/>
<line x1="1677.8" y1="2939.4" x2="2079.4" y2="2859.7"/>
<line x1="1780.5" y1="2954.7" x2="2182.9" y2="2882.6"/>
<line x1="1874.5" y1="2968.6" x2="2275.8" y2="2903.1"/>
<line x1="1960.9" y1="2981.5" x2="2359.6" y2="2921.7"/>
<line x1="1560.6" y1="3459.2" x2="1960.9" y2="3426"/>
<line x1="1642" y1="3469.7" x2="2046" y2="3432.5"/>
<line x1="1734.9" y1="3481.7" x2="2140.3" y2="3439.8"/>
<line x1="1842" y1="3495.4" x2="2245.7" y2="3447.9"/>
<line x1="1966.7" y1="3511.5" x2="2364.1" y2="3457"/>
<line x1="1560.6" y1="3459.2" x2="1966.7" y2="3511.5"/>
<line x1="1678.4" y1="3449.4" x2="2089" y2="3494.7"/>
<line x1="1783.1" y1="3440.7" x2="2193.9" y2="3480.3"/>
<line x1="1876.7" y1="3433" x2="2284.7" y2="3467.9"/>
<line x1="1960.9" y1="3426" x2="2364.1" y2="3457"/>
<line x1="1678.6" y1="2939.5" x2="1675.6" y2="3449.7"/>
<line x1="1781.5" y1="2954.8" x2="1779.7" y2="3441"/>
<line x1="1875.2" y1="2968.7" x2="1874.4" y2="3433.2"/>
<line x1="1565.1" y1="2922.6" x2="1560.6" y2="3459.2"/>
<line x1="1960.9" y1="2981.5" x2="1960.9" y2="3426"/>
<line x1="1564" y1="3058.9" x2="1960.9" y2="3094.5"/>
<line x1="1562.6" y1="3218.1" x2="1960.9" y2="3226.6"/>
<line x1="1561.3" y1="3378.2" x2="1960.9" y2="3359.4"/>
<line x1="2047.4" y1="2968.5" x2="2048.2" y2="3432.7"/>
<line x1="2141.8" y1="2954.4" x2="2143.7" y2="3440.1"/>
<line x1="2245.4" y1="2938.8" x2="2248.5" y2="3448.1"/>
<line x1="1960.9" y1="2981.5" x2="1960.9" y2="3426"/>
<line x1="2359.6" y1="2921.7" x2="2364.1" y2="3457"/>
<line x1="1960.9" y1="3094.5" x2="2360.7" y2="3058"/>
<line x1="1960.9" y1="3226.6" x2="2362.1" y2="3217.2"/>
<line x1="1960.9" y1="3359.4" x2="2363.4" y2="3377.3"/>
</g>
<path d="M1561.5,3324.2C1565.1,3319.2 1575.9,3304.3 1583.3,3294.4C1590.7,3284.6 1598.2,3274.8 1605.8,3265.1C1613.5,3255.5 1621.3,3245.9 1629.2,3236.5C1637.2,3227.1 1645.3,3217.7 1653.6,3208.6C1661.8,3199.5 1670.3,3190.4 1678.9,3181.6C1687.5,3172.8 1696.3,3164.2 1705.2,3155.8C1714.2,3147.3 1723.4,3139.1 1732.8,3131.1C1742.1,3123.2 1751.7,3115.4 1761.5,3107.9C1771.3,3100.4 1781.3,3093.1 1791.5,3086.2C1801.8,3079.3 1812.2,3072.6 1822.9,3066.4C1833.6,3060.2 1844.4,3054.3 1855.5,3049.1C1866.6,3043.8 1877.9,3038.9 1889.4,3034.6C1900.9,3030.4 1912.7,3026.7 1924.6,3023.7C1936.5,3020.8 1954.8,3018 1960.9,3016.9C1964.6,3021.1 1975.7,3033.9 1983.2,3042.3C1990.7,3050.8 1998.2,3059.4 2005.8,3067.7C2013.5,3076.1 2021.2,3084.5 2029.1,3092.7C2036.9,3100.9 2044.9,3108.9 2053.1,3116.8C2061.3,3124.6 2069.6,3132.2 2078.2,3139.6C2086.8,3146.9 2095.6,3154 2104.7,3160.7C2113.8,3167.4 2123.1,3173.8 2132.7,3179.7C2142.4,3185.6 2157.6,3193.4 2162.6,3196.2C2166.9,3195.1 2179.8,3191.1 2188.4,3189.5C2197,3188 2205.6,3187.3 2214.2,3187.1C2222.8,3186.8 2231.4,3187.3 2240,3188.2C2248.5,3189 2257.1,3190.5 2265.6,3192.3C2274.1,3194.1 2282.6,3196.4 2291,3198.8C2299.3,3201.3 2307.7,3204.2 2315.9,3207.2C2324.1,3210.2 2332.3,3213.5 2340.3,3216.9C2348.4,3220.2 2360.1,3225.5 2364.1,3227.2C2359.1,3227.8 2344.2,3229.9 2334.3,3230.5C2324.4,3231.1 2314.6,3231.1 2304.8,3230.7C2295.1,3230.4 2285.3,3229.5 2275.6,3228.3C2265.8,3227.1 2256.1,3225.5 2246.3,3223.7C2236.5,3221.8 2226.7,3219.4 2216.8,3217.4C2207,3215.4 2197.1,3212.9 2187.2,3211.6C2177.4,3210.3 2167.6,3209.3 2157.8,3209.5C2148.1,3209.8 2138.4,3211.1 2128.9,3213.1C2119.4,3215.1 2109.9,3218.2 2100.7,3221.8C2091.5,3225.4 2082.5,3229.8 2073.7,3234.5C2065,3239.3 2056.4,3244.7 2048.3,3250.3C2040.1,3255.9 2032.3,3262 2024.7,3268.1C2017.1,3274.2 2009.9,3280.7 2002.6,3287.1C1995.3,3293.6 1988.3,3300.2 1980.9,3306.7C1973.6,3313.2 1966.3,3319.8 1958.6,3326.2C1951,3332.6 1943.1,3339 1935.1,3345.1C1927,3351.2 1918.7,3357.2 1910.3,3362.9C1901.9,3368.5 1893.3,3373.9 1884.6,3378.9C1875.9,3383.9 1867,3388.6 1858,3392.8C1849,3397 1839.8,3400.8 1830.6,3403.9C1821.4,3407.1 1812,3409.8 1802.6,3411.8C1793.2,3413.9 1783.7,3415.3 1774.1,3416C1764.6,3416.7 1754.9,3416.7 1745.3,3415.9C1735.7,3415.1 1726,3413.5 1716.4,3411.3C1706.8,3409.2 1697.2,3406.3 1687.7,3402.9C1678.3,3399.6 1668.8,3395.6 1659.7,3391.2C1650.5,3386.9 1641.4,3382 1632.6,3376.9C1623.8,3371.8 1615.2,3366.2 1607,3360.5C1598.8,3354.9 1590.7,3348.8 1583.2,3342.8C1575.6,3336.7 1565.1,3327.3 1561.5,3324.2Z" fill="url(#gH)"/>
<g clip-path="url(#cH)"><path d="M2140,3185L2162.6,3196.2C2166.9,3195.1 2179.8,3191.1 2188.4,3189.5C2197,3188 2205.6,3187.3 2214.2,3187.1C2222.8,3186.8 2231.4,3187.3 2240,3188.2C2248.5,3189 2257.1,3190.5 2265.6,3192.3C2274.1,3194.1 2282.6,3196.4 2291,3198.8C2299.3,3201.3 2307.7,3204.2 2315.9,3207.2C2324.1,3210.2 2332.3,3213.5 2340.3,3216.9C2348.4,3220.2 2360.1,3225.5 2364.1,3227.2C2359.9,3227.8 2347.3,3230.2 2338.9,3230.9C2330.5,3231.6 2322.2,3231.7 2313.9,3231.4C2305.6,3231.2 2297.3,3230.4 2289,3229.5C2280.7,3228.6 2272.4,3227.3 2264.2,3225.9C2255.9,3224.6 2247.7,3223 2239.4,3221.5C2231.2,3220 2222.9,3218.4 2214.7,3217C2206.4,3215.6 2198.2,3214.2 2189.9,3213.2C2181.6,3212.2 2173.3,3211.3 2165,3211C2156.7,3210.6 2144.2,3211 2140,3211L2140,3185Z" fill="url(#gH2)" mask="url(#mH)"/></g>
<line x1="1963.5" y1="2834" x2="1966.7" y2="3511.5" stroke="#e2e6e6" stroke-width="1.3" stroke-opacity="0.85"/>
<text class="lt" transform="translate(1326.7 2768.8) scale(1.009 1)" font-size="104.1" fill="#000">H</text>
<text class="k" x="1563.7" y="2912.4" font-size="19.8" transform="rotate(-4 1563.7 2905.3)">-1</text>
<text class="k" x="1647.9" y="2892.9" font-size="20.9" transform="rotate(-4 1647.9 2885.4)">-0.5</text>
<text class="k" x="1740.8" y="2871.2" font-size="22.1" transform="rotate(-4 1740.8 2863.2)">0</text>
<text class="k" x="1844.9" y="2846.9" font-size="23.5" transform="rotate(-4 1844.9 2838.4)">0.5</text>
<text class="k" x="1961" y="2820.9" font-size="25" transform="rotate(-4 1961 2811.9)">-1</text>
<text class="k" x="1970.5" y="2820.9" font-size="25" transform="rotate(4 1970.5 2811.9)">1</text>
<text class="k" x="2082" y="2846" font-size="23.4" transform="rotate(4 2082 2837.6)">-0.5</text>
<text class="k" x="2184.8" y="2870.8" font-size="22.1" transform="rotate(4 2184.8 2862.8)">0</text>
<text class="k" x="2276.9" y="2892.9" font-size="20.8" transform="rotate(4 2276.9 2885.4)">0.5</text>
<text class="k" x="2358.8" y="2911.1" font-size="19.8" transform="rotate(4 2358.8 2904)">1</text>
<text class="k" x="1560.6" y="3481.8" font-size="19.8" transform="rotate(3 1560.6 3474.7)">-1</text>
<text class="k" x="1644.8" y="3494.2" font-size="20.9" transform="rotate(3 1644.8 3486.7)">-0.5</text>
<text class="k" x="1738.6" y="3507.1" font-size="22.1" transform="rotate(3 1738.6 3499.1)">0</text>
<text class="k" x="1844" y="3522.2" font-size="23.5" transform="rotate(3 1844 3513.7)">0.5</text>
<text class="k" x="1963" y="3538.2" font-size="25" transform="rotate(3 1963 3529.2)">-1</text>
<text class="k" x="1972.5" y="3538.2" font-size="25" transform="rotate(-3 1972.5 3529.2)">1</text>
<text class="k" x="2084.3" y="3522.1" font-size="23.4" transform="rotate(-3 2084.3 3513.7)">-0.5</text>
<text class="k" x="2187.9" y="3506.2" font-size="22.1" transform="rotate(-3 2187.9 3498.2)">0</text>
<text class="k" x="2282.2" y="3492.4" font-size="20.8" transform="rotate(-3 2282.2 3484.9)">0.5</text>
<text class="k" x="2364.1" y="3480.5" font-size="19.8" transform="rotate(-3 2364.1 3473.4)">1</text>
<text class="k e" x="1556" y="3066" font-size="19.8">100</text>
<text class="k e" x="1554.6" y="3225.2" font-size="19.8">95</text>
<text class="k e" x="1553.3" y="3385.3" font-size="19.8">90</text>
<text class="k s" x="2368.7" y="3065.1" font-size="19.8">100</text>
<text class="k s" x="2370.1" y="3224.3" font-size="19.8">95</text>
<text class="k s" x="2371.4" y="3384.4" font-size="19.8">90</text>
<text class="a" x="1736.4" y="2837" font-size="32.8" transform="rotate(-13.5 1736.4 2825.2)">Capryol 90 (%)</text>
<text class="a" x="2189.2" y="2835" font-size="32.3" transform="rotate(14 2189.2 2823.4)">Transcutol (%)</text>
<text class="a" y="11.9" font-size="33.1" transform="translate(1737.7 3542.4) rotate(7.5) skewX(-11) scale(1.02 0.86)">Capryol 90 (%)</text>
<text class="a" y="12" font-size="33.3" transform="translate(2192.7 3539.8) rotate(-7.6) skewX(3) scale(1 0.92)">Transcutol (%)</text>
<text class="a" x="1494.2" y="3198.3" font-size="28.7" transform="rotate(-90 1494.2 3188)">Drug loading (%)</text>
<text class="a" x="2422.9" y="3194.8" font-size="28.7" transform="rotate(-90 2422.9 3184.5)">Drug loading (%)</text>
</g>
</g>
</svg>
</body></html>
